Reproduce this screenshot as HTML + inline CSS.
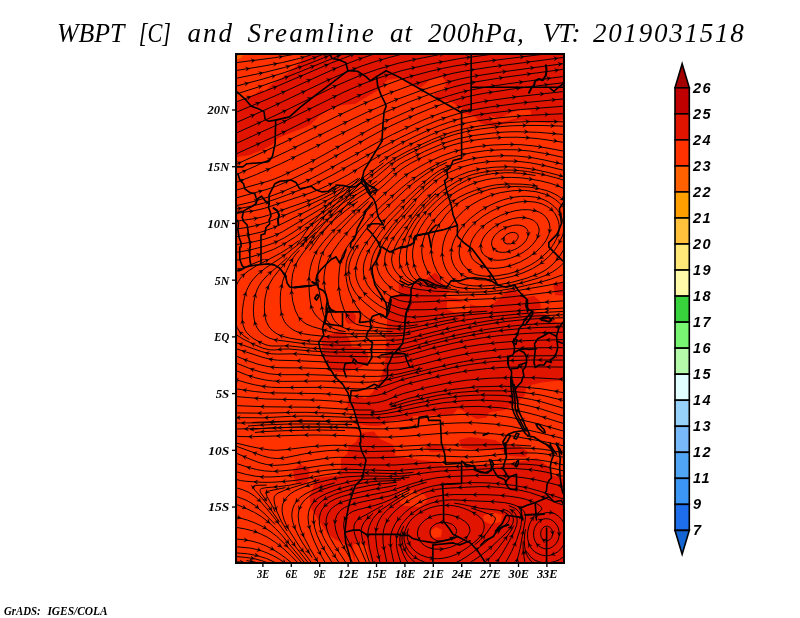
<!DOCTYPE html>
<html lang="en"><head><meta charset="utf-8"><title>WBPT [C] and Sreamline at 200hPa</title>
<style>html,body{margin:0;padding:0;background:#fff;}body{width:800px;height:618px;overflow:hidden;}svg{display:block;}.t{font-family:"Liberation Serif","DejaVu Serif",serif;font-style:italic;font-size:27px;fill:#000;}.ax{font-family:"Liberation Serif","DejaVu Serif",serif;font-style:italic;font-weight:bold;font-size:13px;fill:#000;}.cb{font-family:"Liberation Sans","DejaVu Sans",sans-serif;font-style:italic;font-weight:bold;font-size:14.5px;fill:#000;}.ft{font-family:"Liberation Serif","DejaVu Serif",serif;font-style:italic;font-weight:bold;font-size:12.5px;fill:#000;}</style></head><body>
<svg width="800" height="618" viewBox="0 0 800 618">
<rect width="800" height="618" fill="#fff"/>
<text class="t" y="42" xml:space="default"><tspan x="57" textLength="67.00" lengthAdjust="spacingAndGlyphs">WBPT</tspan> <tspan x="138.75" textLength="32.25" lengthAdjust="spacingAndGlyphs">[C]</tspan> <tspan x="187.5" textLength="44.50" lengthAdjust="spacing">and</tspan> <tspan x="247.5" textLength="126.25" lengthAdjust="spacing">Sreamline</tspan> <tspan x="390" textLength="22.00" lengthAdjust="spacing">at</tspan> <tspan x="428" textLength="95.75" lengthAdjust="spacing">200hPa,</tspan> <tspan x="542.5" textLength="38.00" lengthAdjust="spacing">VT:</tspan> <tspan x="593" textLength="150.75" lengthAdjust="spacing">2019031518</tspan></text>
<defs><clipPath id="mc"><rect x="236" y="54" width="328" height="509"/></clipPath></defs>
<g clip-path="url(#mc)">
<rect x="236" y="54" width="328" height="509" fill="#ff3200"/>
<polygon fill="#e11400" points="311.0,54.0 303.5,59.0 296.0,66.5 283.5,76.5 276.0,81.5 271.0,85.0 265.0,91.5 261.0,90.0 253.5,95.0 247.0,98.0 243.5,100.0 236.0,101.0 236.0,157.3 249.1,155.2 261.9,149.9 272.5,144.6 277.8,138.2 285.2,135.0 293.7,131.8 304.4,127.6 310.7,124.4 319.2,115.9 330.0,109.0 342.5,105.0 355.0,104.0 367.5,96.5 380.0,89.0 387.5,80.0 400.0,78.0 412.0,86.0 420.0,88.0 430.0,80.0 442.0,77.0 446.0,82.0 445.0,90.0 434.0,94.0 438.0,100.0 450.0,101.0 458.0,106.0 464.0,110.0 461.6,112.7 474.4,115.9 480.7,123.3 493.5,126.5 506.2,123.3 519.0,120.1 527.5,121.2 548.7,123.3 566.0,119.0 566.0,52.0"/>
<polygon fill="#ff3200" points="490.3,115.9 499.9,118.0 510.5,112.7 522.2,109.5 530.7,110.6 531.3,114.8 521.1,116.9 510.5,120.1 499.9,122.2 489.2,121.2"/>
<polygon fill="#ff6000" points="234.0,52.0 246.0,52.0 241.0,58.0 234.0,61.0"/>
<polygon fill="#e11400" points="387.5,315.0 388.8,297.5 398.8,295.0 398.8,283.8 407.5,287.5 412.5,286.2 417.5,280.0 423.8,281.2 430.0,276.2 435.0,272.5 438.8,276.2 442.5,283.8 450.0,291.2 440.0,298.8 447.5,297.5 457.5,298.8 464.0,302.5 476.5,306.0 489.0,307.5 499.0,299.0 508.0,290.0 514.0,289.0 519.0,294.0 527.0,297.0 534.0,296.0 540.0,301.0 541.0,308.0 534.0,311.0 545.0,314.0 550.0,318.0 556.0,322.0 566.0,324.0 566.0,380.0 541.5,382.5 526.5,386.0 525.0,395.0 519.0,401.0 505.0,410.0 489.0,412.5 486.5,417.5 476.5,419.0 469.0,415.0 462.0,410.0 457.5,409.0 452.5,415.0 435.0,415.0 412.5,416.0 410.0,421.0 397.5,420.0 390.0,421.0 385.0,424.0 380.0,426.0 370.0,426.0 357.5,424.0 355.0,412.5 353.8,410.0 347.5,406.0 347.5,400.0 360.0,396.0 365.0,398.8 372.5,392.5 380.0,380.0 385.0,365.0 386.0,340.0"/>
<polygon fill="#ff3200" points="447.0,301.0 470.0,303.0 470.0,312.0 455.0,313.0 447.0,309.0"/>
<polygon fill="#e11400" points="322.0,337.0 330.0,335.0 340.0,330.0 345.0,333.0 350.0,340.0 352.0,347.0 360.0,347.0 368.0,352.0 368.0,362.0 360.0,368.0 345.0,372.0 335.0,372.0 328.0,365.0 322.0,350.0"/>
<polygon fill="#e11400" points="345.0,313.0 352.0,311.0 356.0,316.0 355.0,323.0 348.0,324.0 345.0,319.0"/>
<polygon fill="#e11400" points="553.0,283.0 563.0,283.0 566.0,290.0 566.0,296.0 555.0,295.0"/>
<polygon fill="#e11400" points="360.5,433.0 356.0,442.0 348.5,446.5 347.0,454.0 341.0,458.5 341.0,475.0 329.0,476.5 315.5,478.0 314.0,485.5 309.5,496.0 311.0,508.0 318.5,520.0 327.5,533.5 335.0,539.5 342.5,542.5 350.0,548.5 353.0,556.0 356.0,565.0 566.0,565.0 566.0,480.0 552.0,475.0 549.0,467.0 537.0,458.0 528.0,460.0 500.0,466.0 470.0,466.0 444.0,466.0 440.0,462.0 420.0,460.0 410.0,458.5 395.0,455.5 393.5,445.0 380.0,439.0 374.0,431.5"/>
<polygon fill="#e11400" points="293.0,470.0 300.0,464.5 309.5,468.0 309.0,480.0 303.0,485.5 295.0,482.0"/>
<polygon fill="#e11400" points="459.0,440.0 470.0,437.0 495.0,440.0 504.0,445.0 520.0,446.0 528.0,452.0 526.0,457.0 510.0,456.0 500.0,450.0 480.0,450.0 462.0,448.0"/>
<polygon fill="#e11400" points="425.0,446.0 435.0,444.0 447.0,447.0 445.0,452.0 430.0,452.0"/>
<polygon fill="#ff3200" points="353.0,545.0 360.0,541.0 367.0,546.0 369.0,556.0 372.0,565.0 356.0,565.0"/>
<polygon fill="#ff3200" points="400.0,492.0 412.0,490.0 424.0,494.0 428.0,500.0 420.0,507.0 405.0,506.0 400.0,503.0"/>
<polygon fill="#ff3200" points="430.0,531.0 436.0,527.0 442.0,530.0 441.0,537.0 433.0,538.0"/>
<polygon fill="#ff3200" points="483.0,516.0 492.0,512.0 502.0,515.0 501.0,522.0 490.0,524.0 484.0,521.0"/>
<g fill="none" stroke="#000" stroke-width="0.95" stroke-linejoin="round" stroke-linecap="butt">
<path d="M234.9 561.5 L248.6 563.0"/>
<path d="M246.4 560.6 L253.2 561.7 L258.8 563.0"/>
<path d="M235.4 556.5 L245.7 557.4 L253.7 558.6 L261.5 560.6 L269.1 563.3"/>
<path d="M235.0 552.8 L247.6 553.8 L256.7 555.5 L266.5 558.5 L277.0 563.3"/>
<path d="M235.6 546.7 L250.5 548.1 L256.1 549.3 L261.7 550.9 L267.0 552.9 L273.3 555.8 L279.3 559.2 L285.0 563.0"/>
<path d="M234.9 538.9 L245.2 539.9 L252.0 541.2 L258.6 543.0 L265.1 545.5 L271.3 548.5 L278.2 552.7 L285.6 558.0 L291.8 563.2"/>
<path d="M235.2 527.2 L245.4 529.0 L253.2 531.0 L260.7 533.9 L267.9 537.5 L275.6 542.5 L282.8 548.2 L290.5 555.2 L298.5 563.4"/>
<path d="M235.6 504.1 L246.3 508.5 L254.6 512.5 L261.4 516.6 L268.7 522.2 L275.5 528.5 L281.8 535.2 L305.3 563.5"/>
<path d="M565.0 476.7 L546.0 472.1 L533.6 470.0 L514.1 468.4 L496.8 468.4 L440.5 471.1 L429.1 472.3 L407.5 475.5 L399.5 476.2 L391.4 476.4 L363.8 475.9 L348.9 476.7 L338.6 477.9 L329.6 479.7 L317.3 482.7 L306.3 486.1 L299.9 488.6 L294.7 491.1 L290.8 493.5 L287.4 496.5 L284.6 500.2 L283.1 503.3 L282.2 506.6 L282.1 511.2 L282.9 515.7 L284.2 520.1 L286.5 525.4 L289.2 530.5 L299.1 546.0 L312.1 563.5"/>
<path d="M409.5 477.2 L402.6 478.1 L395.8 478.7 L375.1 478.9 L365.9 479.3 L357.9 480.1 L349.9 481.6 L334.3 485.5 L321.3 490.0 L312.0 494.5 L308.2 497.1 L305.5 499.3 L303.2 501.8 L301.2 504.7 L299.0 509.9 L298.2 515.6 L298.8 522.5 L300.6 529.1 L304.2 537.6 L309.6 547.8 L318.8 563.7"/>
<path d="M401.1 479.8 L393.1 480.6 L378.2 481.2 L371.3 481.8 L359.9 483.5 L349.8 485.8 L336.6 489.6 L325.8 493.8 L318.8 497.6 L316.0 499.7 L313.6 502.1 L310.3 506.8 L308.5 512.3 L308.0 518.0 L308.8 524.8 L310.9 532.6 L314.2 541.2 L319.1 551.6 L325.7 563.7"/>
<path d="M396.3 482.3 L378.0 484.2 L370.0 485.4 L355.4 488.4 L343.1 491.6 L334.4 494.5 L327.1 497.8 L322.2 500.9 L318.1 504.8 L316.1 507.7 L315.1 509.7 L313.7 515.3 L313.6 521.0 L314.7 527.8 L317.2 535.5 L321.0 543.8 L326.0 552.9 L332.7 563.6"/>
<path d="M396.8 485.0 L390.1 486.5 L375.3 489.0 L361.8 491.8 L349.5 494.5 L341.7 496.6 L335.2 499.0 L330.1 501.7 L325.6 505.1 L322.6 508.6 L320.5 512.7 L319.2 518.3 L319.4 524.0 L320.9 530.7 L323.4 537.2 L326.6 543.3 L339.6 563.6"/>
<path d="M564.5 486.9 L547.8 482.5 L536.6 479.9 L524.1 477.8 L510.4 476.2 L497.8 475.5 L479.4 475.4 L447.2 476.7 L435.8 477.9 L424.5 480.2 L412.3 483.6 L389.4 491.2 L359.0 497.4 L350.1 499.5 L343.5 501.5 L339.2 503.3 L335.2 505.6 L332.5 507.7 L330.1 510.2 L328.2 513.1 L326.9 516.3 L326.2 519.6 L326.0 523.1 L326.3 526.5 L327.1 529.9 L328.5 534.2 L330.5 538.4 L334.5 545.4 L346.5 563.6"/>
<path d="M426.8 482.2 L419.0 484.4 L411.4 486.9 L393.4 494.6 L389.1 496.1 L359.9 502.4 L351.0 504.8 L344.6 507.5 L341.8 509.4 L339.3 511.7 L336.7 515.5 L335.3 519.9 L334.9 524.5 L335.8 530.1 L337.6 535.6 L340.1 540.8 L353.3 563.7"/>
<path d="M409.6 490.1 L403.3 493.0 L391.1 499.4 L383.7 502.5 L374.9 505.4 L358.2 509.6 L352.8 511.4 L348.8 513.8 L345.8 517.2 L344.4 520.3 L343.7 523.7 L343.9 528.3 L345.0 532.8 L346.5 537.1 L349.4 543.4 L360.1 563.7"/>
<path d="M383.1 505.4 L358.9 518.6 L355.6 521.8 L354.2 524.9 L353.8 529.5 L354.4 532.9 L355.3 536.2 L357.8 542.7 L366.8 563.8"/>
<path d="M409.3 492.5 L403.2 495.7 L394.3 501.1 L381.9 509.3 L375.3 515.7 L373.2 518.5 L370.9 522.5 L369.2 526.7 L368.3 530.1 L367.9 533.5 L368.0 538.1 L369.5 548.3 L373.5 563.9"/>
<path d="M564.5 499.4 L540.5 491.4 L528.3 488.0 L513.6 485.3 L495.3 483.4 L485.0 482.8 L473.5 482.6 L448.2 483.9 L441.3 484.6 L434.5 485.7 L427.8 487.3 L422.3 489.0 L415.9 491.6 L409.7 494.6 L403.8 498.1 L395.1 503.8 L389.6 508.0 L385.4 511.8 L382.3 515.3 L379.8 519.1 L377.8 523.2 L376.5 527.6 L375.8 532.2 L375.7 536.8 L376.7 547.1 L380.3 563.9"/>
<path d="M565.0 505.5 L558.4 503.5 L540.3 496.1 L529.5 492.4 L517.1 489.6 L501.2 487.5 L489.7 486.7 L479.4 486.6 L450.6 488.0 L442.6 488.6 L436.9 489.4 L431.3 490.6 L425.8 492.2 L420.4 494.3 L414.3 497.4 L407.4 501.6 L400.8 506.2 L396.3 509.8 L392.2 513.9 L389.3 517.4 L386.8 521.3 L385.3 524.4 L383.9 528.8 L383.1 533.3 L382.9 537.9 L383.1 542.5 L383.9 548.2 L387.2 563.9"/>
<path d="M564.2 543.9 L561.8 547.8 L557.7 551.8 L553.7 554.1 L550.4 555.2 L548.2 555.6 L545.9 555.7 L542.4 555.3 L538.1 553.8 L534.2 551.4 L531.1 548.0 L528.9 544.0 L527.6 538.4 L527.6 532.6 L528.7 527.0 L530.2 522.7 L532.4 518.6 L535.4 515.1 L540.7 510.7 L541.4 509.9 L541.8 508.8 L541.5 507.7 L540.8 506.7 L539.1 505.2 L536.2 503.4 L532.0 501.5 L525.5 499.2 L518.8 497.6 L509.7 496.3 L499.4 495.3 L486.7 494.7 L454.5 494.5 L443.1 495.2 L436.3 496.3 L429.6 498.1 L424.2 500.1 L418.0 503.2 L411.2 507.5 L405.8 511.7 L401.6 515.7 L397.1 520.9 L394.7 524.8 L392.3 530.0 L391.0 534.4 L390.4 539.0 L390.4 543.6 L391.0 549.3 L394.1 563.9"/>
<path d="M515.9 563.9 L518.2 556.2 L520.1 548.4 L525.2 520.1 L525.5 516.7 L525.2 514.4 L524.5 512.2 L522.3 509.5 L518.6 506.9 L514.4 505.0 L510.0 503.7 L504.3 502.6 L492.9 501.6 L473.3 500.9 L452.7 499.8 L444.7 500.3 L437.8 501.4 L431.2 503.1 L424.7 505.6 L418.6 508.8 L412.9 512.7 L407.7 517.2 L403.9 521.5 L401.2 525.2 L398.6 530.3 L397.1 534.7 L396.4 539.2 L396.4 543.8 L397.1 549.5 L398.8 556.2 L401.2 563.9"/>
<path d="M403.8 526.0 L401.8 530.2 L400.4 534.6 L399.8 539.1 L400.1 543.7 L401.4 549.3 L403.5 554.7 L406.1 559.8 L408.7 563.6"/>
<path d="M403.1 531.3 L402.1 535.7 L402.0 540.3 L402.8 544.9 L404.4 549.2 L407.2 554.2 L410.0 557.8 L413.3 561.0 L417.1 563.6"/>
<path d="M408.4 528.5 L407.5 531.8 L407.2 535.2 L407.4 537.5 L408.1 540.9 L410.6 546.1 L412.7 548.8 L415.2 551.2 L417.9 553.3 L420.9 555.0 L427.4 557.4 L434.2 558.6 L437.6 558.7 L442.2 558.4 L450.1 556.7 L454.4 555.1 L458.6 553.2 L467.3 547.7 L477.2 539.8 L481.1 535.6 L482.8 532.6 L483.6 530.5 L484.2 527.1 L484.1 524.8 L483.6 522.5 L482.6 520.4 L480.5 517.8 L477.8 515.5 L474.0 513.0 L468.9 510.4 L463.5 508.3 L459.1 506.9 L454.6 505.9 L450.1 505.4 L440.9 505.5 L436.3 506.2 L431.9 507.3 L427.5 508.8 L423.3 510.7 L419.4 513.0 L415.6 515.7 L412.2 518.7 L409.9 521.3 L408.0 524.2 L405.9 528.3 L404.5 532.6 L404.0 536.1 L404.1 539.5 L404.7 542.9 L405.9 546.1 L408.1 550.2 L410.2 552.9 L413.4 556.2 L416.2 558.2 L420.3 560.4 L424.5 562.1 L429.0 563.2"/>
<path d="M454.8 563.1 L461.0 560.1 L466.9 556.5 L473.4 551.8 L482.5 544.8 L504.4 526.1 L508.2 521.8 L509.2 519.8 L509.4 518.6 L509.1 516.4 L507.9 514.4 L505.1 512.4 L501.9 511.1 L497.4 510.1 L480.3 508.3 L462.3 504.4 L454.3 503.2"/>
<path d="M468.8 563.5 L480.3 555.9 L490.2 548.0 L505.2 533.8 L509.1 529.5 L511.1 526.7 L512.7 523.6 L513.3 521.4 L513.4 519.1 L512.6 515.8 L511.4 513.8 L508.8 511.6 L505.7 510.1 L502.4 509.1"/>
<path d="M483.8 563.2 L490.6 557.0 L498.1 548.3 L509.1 533.6 L511.6 529.7 L513.7 525.6"/>
<path d="M495.7 563.6 L500.8 555.9 L510.0 540.0 L514.6 530.7 L516.6 525.3 L517.1 521.9 L517.1 519.6 L516.8 517.3 L516.0 515.2 L514.9 513.2 L513.3 511.5 L509.5 509.0"/>
<path d="M505.1 563.7 L511.6 551.5 L516.7 539.9 L520.2 529.0 L521.2 524.5 L521.5 521.1 L521.4 517.6 L520.9 515.4 L520.0 513.3 L518.6 511.4 L516.1 509.1 L514.2 507.9 L508.8 505.7"/>
<path d="M525.1 564.0 L523.4 552.6 L523.1 546.8 L523.2 541.1"/>
<path d="M533.3 563.2 L530.7 560.9 L528.0 557.2 L526.5 554.1 L525.2 549.7 L524.5 545.1 L524.3 540.5 L524.6 534.8 L525.5 529.1"/>
<path d="M564.3 556.3 L559.6 559.6 L555.4 561.4 L549.8 562.7 L544.1 562.9 L538.5 561.7 L534.3 559.8 L530.7 556.9 L528.0 553.2"/>
<path d="M430.4 548.2 L434.9 549.1 L440.7 549.2 L445.2 548.6 L450.8 547.1 L456.1 544.9 L461.0 542.0 L465.5 538.4 L468.4 534.9 L469.8 531.7 L469.9 529.4 L469.0 526.1 L467.1 523.3 L464.4 521.1 L460.5 518.6 L455.2 516.4 L450.8 515.1 L446.3 514.4 L441.7 514.3 L437.1 514.9 L432.7 516.1 L428.5 517.9 L424.6 520.4 L421.3 523.6 L419.3 526.4 L418.0 529.6 L417.4 533.0 L417.8 536.4 L419.0 539.6 L421.0 542.4 L424.5 545.4 L427.5 547.1 L431.9 548.5"/>
<path d="M547.6 548.6 L545.3 548.7 L543.1 548.3 L541.0 547.4 L538.2 545.4 L536.6 543.7 L534.9 540.7 L533.9 537.4 L533.6 535.2 L533.7 531.7 L534.5 528.4 L535.4 526.3 L537.3 523.4 L539.7 520.9 L541.6 519.7 L543.8 518.9 L546.1 518.7 L548.4 518.9 L550.6 519.6 L552.6 520.7 L555.2 522.9 L557.2 525.7 L558.2 527.8 L559.0 531.1 L559.2 534.6 L558.9 536.9 L558.0 540.2 L556.3 543.2 L554.8 544.9 L552.1 547.1 L550.1 548.1 L547.9 548.7 L545.6 548.8"/>
<path d="M547.6 540.9 L545.3 540.9 L544.3 540.5 L542.4 539.1 L541.2 537.2 L540.6 533.8 L541.2 530.4 L542.4 528.5 L544.1 526.9 L545.1 526.4 L547.4 526.2 L549.5 527.0 L551.2 528.6 L552.2 530.6 L552.7 534.0 L551.8 537.3 L550.4 539.2 L548.5 540.4 L546.2 540.8"/>
<path d="M431.1 536.6 L432.6 538.3 L434.6 539.6 L436.7 540.5 L438.9 541.0 L443.5 541.0 L449.1 539.6 L453.0 537.3 L454.6 535.7 L455.9 533.7 L456.5 531.5 L456.5 530.4 L455.8 528.2 L454.5 526.3 L452.8 524.8 L450.8 523.7 L446.4 522.4 L440.7 522.4 L436.3 523.7 L434.3 524.8 L432.5 526.3 L431.1 528.1 L430.2 530.2 L430.0 533.7 L430.7 535.8 L432.1 537.7"/>
<path d="M373.1 513.3 L368.8 517.1 L364.2 522.2 L362.1 526.3 L361.3 529.7 L361.5 534.2 L362.8 541.0 L365.0 548.8 L370.0 564.1"/>
<path d="M474.7 544.7 L480.0 540.3 L484.9 535.4 L494.2 522.3 L495.4 519.1 L495.3 518.0 L494.7 517.0 L491.9 515.0 L471.2 508.1"/>
<path d="M235.2 516.6 L247.4 520.1 L254.9 522.9 L263.2 526.9 L270.0 531.2 L276.4 536.1 L283.1 542.3 L291.1 550.7 L302.5 563.6"/>
<path d="M534.9 518.1 L538.5 515.3 L542.7 513.5 L547.2 512.5 L551.8 512.7 L555.0 513.8 L558.8 516.4 L561.9 519.8 L564.3 523.7"/>
<path d="M335.0 482.8 L326.2 485.3 L317.5 488.3 L311.1 490.9 L305.0 494.1 L300.3 497.4 L297.0 500.7 L294.4 504.5 L292.7 508.7 L291.9 513.2 L292.0 517.8 L292.9 522.3 L294.7 527.8 L297.6 534.0 L302.1 542.1 L312.1 557.5"/>
<path d="M234.9 487.3 L243.7 490.1 L248.9 492.4 L254.7 496.3 L260.6 501.7 L266.7 508.6 L275.4 519.3 L296.5 548.0 L308.6 563.3"/>
<path d="M319.5 479.9 L303.9 484.1 L287.4 489.1 L277.9 493.2 L276.0 494.5 L274.5 496.2 L274.0 498.5 L274.1 500.8 L275.3 506.4 L277.0 511.9 L281.3 521.3 L287.2 531.1"/>
<path d="M235.5 496.0 L246.1 500.2 L250.2 502.4 L255.0 505.5 L263.8 513.0 L275.1 524.4"/>
<path d="M285.4 487.6 L269.6 490.8 L267.5 491.6 L266.6 492.3 L266.2 493.4 L267.1 496.7 L272.7 506.7 L275.2 511.9"/>
<path d="M301.1 482.9 L288.7 485.4 L278.4 486.7 L265.8 487.7 L261.3 488.6 L260.4 489.3 L260.0 490.4 L260.6 492.6 L265.9 500.0"/>
<path d="M266.8 485.1 L255.4 485.4 L253.2 486.3 L253.1 487.4 L255.0 490.3 L263.4 499.8 L268.4 506.0 L279.5 522.2"/>
<path d="M413.4 472.3 L404.2 473.3 L396.2 473.7 L358.2 472.6 L339.9 472.8 L326.2 474.6 L295.7 480.4 L285.4 481.4 L271.6 482.3 L261.3 482.3 L245.2 481.2 L240.6 480.6 L235.1 479.1"/>
<path d="M564.2 471.0 L547.5 467.0 L537.3 465.2 L525.8 464.2 L510.9 463.9 L499.4 464.2 L473.0 466.0 L437.4 467.1 L398.4 470.6 L385.8 470.5 L349.0 469.3 L336.3 469.4 L324.9 470.4 L294.2 475.1 L280.5 476.4 L270.1 477.0 L262.1 476.9 L254.1 476.0 L246.2 474.4 L235.1 471.4"/>
<path d="M564.5 465.2 L547.7 461.4 L538.6 460.0 L529.4 459.3 L515.6 459.3 L503.0 459.8 L474.3 462.2 L431.8 462.5 L395.1 465.0 L370.9 465.0 L343.3 464.3 L334.1 464.4 L323.8 465.3 L295.4 469.6 L281.7 470.9 L272.5 471.4 L264.4 470.9 L256.5 469.5 L248.7 467.5 L235.6 463.2"/>
<path d="M564.6 457.5 L552.2 455.1 L543.1 453.7 L536.2 453.1 L528.1 452.9 L508.6 453.7 L482.3 456.2 L472.0 456.8 L461.6 456.8 L424.8 455.5 L415.6 455.8 L395.0 457.2 L376.6 457.8 L366.2 457.9 L338.6 457.3 L331.8 457.7 L323.8 458.6 L285.2 464.7 L274.8 465.4 L266.8 464.6 L259.1 462.6 L249.4 458.9 L235.7 452.9"/>
<path d="M564.8 453.1 L551.2 450.5 L542.1 449.2 L532.9 448.4 L522.6 448.0 L504.2 448.3 L480.1 450.0 L470.9 450.4 L423.8 449.2 L390.5 451.0 L370.9 451.5 L361.7 451.3 L344.5 450.3 L336.5 450.2 L327.3 450.7 L314.7 452.2 L304.5 453.8 L285.4 457.7 L280.8 458.3 L276.2 458.5 L270.5 457.9 L262.7 455.9 L235.7 446.0"/>
<path d="M531.2 446.0 L515.1 445.0 L501.3 444.7 L471.4 445.0 L430.0 444.8 L400.1 446.3 L378.3 446.7 L365.6 446.5 L342.7 445.4 L332.3 445.3 L310.5 446.6 L284.3 449.8 L276.2 450.3 L269.4 449.9 L261.4 448.7 L249.0 446.2 L235.6 442.9"/>
<path d="M564.8 446.0 L543.4 441.5 L510.5 435.7 L494.5 433.9 L475.0 432.7 L461.2 432.6 L444.0 433.2 L403.9 436.4 L388.9 437.1 L375.1 437.0 L341.8 435.5 L318.8 435.0 L300.4 435.2 L252.2 436.7 L243.0 436.6 L234.9 436.2"/>
<path d="M564.6 438.9 L536.7 432.0 L510.9 426.4 L494.9 424.2 L475.5 422.8 L461.7 422.8 L444.4 423.5 L400.9 427.9 L383.7 428.9 L372.2 428.8 L335.5 427.4 L312.5 427.0 L294.1 427.2 L259.6 428.5 L235.4 429.0"/>
<path d="M564.6 431.4 L536.9 423.5 L513.4 418.0 L505.5 416.6 L497.5 415.6 L476.8 414.3 L461.9 414.4 L443.5 415.4 L429.8 417.0 L397.9 421.4 L380.7 422.7 L369.2 422.7 L330.1 421.3 L307.1 421.0 L292.2 421.3 L262.3 422.8 L235.9 423.0"/>
<path d="M564.5 423.8 L538.2 415.6 L527.0 412.7 L514.7 410.0 L506.7 408.6 L498.8 407.6 L478.1 406.4 L462.0 406.8 L442.5 408.4 L427.7 410.5 L394.9 416.2 L385.7 417.3 L377.7 417.9 L363.9 418.0 L327.1 416.5 L305.3 416.1 L291.5 416.3 L262.8 417.8 L235.2 417.6"/>
<path d="M564.8 416.5 L539.6 408.5 L529.6 406.0 L518.3 403.6 L509.3 402.0 L501.3 401.1 L480.6 400.1 L464.5 400.7 L442.8 402.8 L422.4 406.3 L388.6 413.1 L381.7 414.1 L374.9 414.7 L359.9 414.7 L325.5 412.9 L305.9 412.3 L293.3 412.4 L263.4 413.2 L235.8 412.9"/>
<path d="M564.8 408.6 L540.6 401.5 L531.6 399.5 L520.3 397.5 L510.0 396.1 L502.0 395.4 L480.2 395.0 L462.9 395.9 L441.3 398.5 L415.3 403.5 L386.2 410.5 L379.4 411.6 L371.4 412.2"/>
<path d="M372.7 410.0 L358.9 410.0 L315.3 407.3 L267.0 406.8 L234.9 405.6"/>
<path d="M565.1 379.5 L536.4 377.8 L514.6 377.5 L490.4 378.2 L466.4 380.2 L445.9 383.4 L426.8 387.4 L403.4 393.5 L396.9 395.8 L387.3 399.8 L381.9 401.5 L376.3 402.7 L369.4 403.4 L357.9 403.2 L332.7 401.0 L318.9 400.2 L266.0 399.0 L235.1 396.5"/>
<path d="M564.9 400.8 L541.4 395.1 L523.2 392.4 L503.7 390.8 L479.6 390.8 L460.1 392.3 L447.5 393.9 L437.3 395.5 L410.3 401.2 L390.4 407.0"/>
<path d="M564.5 367.1 L530.0 366.8 L504.7 367.3 L487.5 368.5 L465.8 371.1 L454.4 373.1 L438.7 376.3 L413.0 382.5 L401.9 385.7 L387.2 392.1 L381.8 394.1 L376.2 395.5 L369.4 396.4 L357.9 396.3 L333.8 394.4 L320.0 393.6 L268.3 392.8 L254.5 391.5 L235.2 388.7"/>
<path d="M564.9 392.9 L541.1 388.8 L521.6 386.9 L500.9 386.2 L475.7 386.9 L452.8 389.4 L433.5 392.6 L407.8 398.6 L390.3 404.4"/>
<path d="M565.0 360.1 L530.5 360.0 L506.3 360.7 L490.3 361.8 L470.9 364.3 L453.9 367.3 L425.8 373.6 L402.4 379.6 L381.8 386.8 L375.1 388.2 L368.2 388.9 L357.9 388.9 L323.4 387.3 L283.2 387.6 L271.7 387.3 L262.5 386.3 L254.6 384.8 L246.8 382.9 L235.8 379.6"/>
<path d="M564.5 355.7 L532.3 355.8 L511.6 356.4 L494.4 357.5 L477.3 359.5 L463.7 361.6 L449.0 364.6 L424.4 370.4 L385.3 380.2 L377.4 381.5 L369.4 382.2 L357.9 382.3 L322.3 381.0 L283.2 381.4 L272.8 381.0 L264.9 379.9 L255.9 377.9 L247.1 375.1 L235.4 370.4"/>
<path d="M422.6 368.2 L398.0 374.1 L387.7 375.6 L377.4 376.4 L360.2 376.4 L310.7 374.7 L279.7 374.7 L269.4 373.8 L260.4 371.9 L249.4 368.4 L235.6 362.8"/>
<path d="M565.0 347.6 L536.2 347.8 L521.3 348.2 L499.5 349.6 L482.3 351.5 L467.5 353.7 L454.0 356.3 L435.0 360.8 L402.6 369.0 L397.0 369.9 L390.1 370.3 L375.1 370.2 L302.7 367.9 L282.0 367.8 L275.1 367.5 L267.2 366.4 L258.2 364.3 L248.4 361.0 L235.6 355.9"/>
<path d="M564.8 339.6 L534.9 340.3 L518.9 341.0 L498.2 342.6 L479.9 344.7 L464.0 347.2 L449.4 350.3 L432.7 354.4 L404.9 361.9 L399.2 362.9 L393.5 363.3 L365.9 363.2 L339.5 362.7 L300.4 360.8 L277.4 360.2 L270.6 359.3 L262.8 357.4 L235.4 348.5"/>
<path d="M564.7 332.1 L537.1 332.9 L522.2 333.7 L500.4 335.5 L483.3 337.7 L467.4 340.3 L455.0 342.8 L433.7 347.8 L406.1 355.6 L400.4 356.7 L394.7 357.2 L332.6 356.1 L317.7 355.4 L294.7 353.8 L277.5 354.1 L271.7 353.8 L267.2 353.1 L261.6 351.6 L235.6 342.5"/>
<path d="M564.5 323.1 L538.1 323.9 L525.5 324.7 L506.0 326.6 L490.1 328.8 L469.7 332.4 L453.9 335.7 L432.7 340.8 L407.2 347.7 L399.3 349.2 L391.2 349.7 L334.9 349.3 L310.8 348.2 L289.0 345.9 L271.8 346.0 L268.4 345.5 L265.1 344.5 L259.8 342.2 L253.8 338.8 L250.1 336.1 L246.9 332.8 L245.0 329.9 L243.3 325.6 L242.4 321.1 L242.1 316.5 L242.4 310.8 L243.4 302.8 L244.5 297.2 L246.2 291.7 L248.0 287.4 L250.8 282.4 L253.6 278.8 L257.5 274.6 L265.5 268.0 L280.9 257.8 L287.3 253.1 L300.8 242.3 L322.7 223.6 L332.6 215.7 L345.6 206.3 L366.6 192.2 L374.9 186.0 L383.0 179.5 L395.6 167.8 L400.2 164.3 L405.1 161.3 L424.6 151.4 L442.5 143.7 L457.9 138.8 L473.6 135.5 L494.1 132.9 L505.6 132.0 L515.9 131.7 L537.8 132.3 L564.1 134.5"/>
<path d="M564.7 314.7 L525.7 316.5 L506.2 318.5 L488.0 320.9 L459.7 325.9 L437.3 331.1 L409.4 338.2 L402.6 339.5 L396.9 340.1 L369.3 340.5 L339.5 341.9 L329.1 341.9 L310.7 341.0 L302.7 340.3 L290.2 338.2 L282.4 336.3 L277.2 334.0 L272.5 330.7 L268.7 326.4 L266.2 321.3 L264.7 314.5 L264.4 306.5 L265.0 298.5 L266.7 290.6 L269.3 284.2 L273.4 277.3 L277.7 271.9 L285.9 262.3 L291.6 255.1 L295.6 251.0 L315.8 232.2"/>
<path d="M564.0 317.7 L538.7 318.6 L526.1 319.4 L507.8 321.3 L491.9 323.5 L478.3 325.8 L459.1 329.6 L434.4 335.4 L406.6 342.7 L401.0 343.8 L395.3 344.5 L341.2 345.2 L328.6 345.0 L305.6 343.8 L274.9 339.8 L269.4 338.1 L264.3 335.4 L259.9 331.7 L256.6 327.0 L254.6 321.6 L253.7 316.0 L253.4 309.1 L254.0 301.1 L255.2 295.4 L257.0 290.0 L259.0 285.8 L262.2 281.1 L267.6 275.1 L284.0 260.7 L287.3 257.5"/>
<path d="M564.6 326.7 L538.2 327.5 L524.4 328.3 L505.0 330.1 L489.0 332.2 L467.5 335.9 L450.6 339.4 L431.6 344.0 L405.0 351.4 L399.3 352.4 L393.6 352.7 L330.3 352.1 L312.0 351.1 L289.1 349.0 L283.3 349.1 L274.2 350.0 L269.6 349.8 L262.9 348.2 L254.4 344.7 L243.1 339.0 L235.3 334.2"/>
<path d="M564.2 311.4 L535.4 312.8 L521.7 313.7 L495.4 316.3 L469.1 319.5 L458.9 321.0 L447.6 323.3 L410.6 332.0 L403.8 333.1 L398.1 333.5 L352.1 333.9 L339.5 333.3 L333.8 332.5 L328.2 331.2 L312.7 326.7 L306.4 324.1 L301.7 320.7 L298.1 316.2 L295.2 310.0 L292.7 301.2 L291.6 292.0 L291.7 281.7 L292.7 273.7 L295.1 266.0 L298.2 259.9 L302.7 253.2 L310.0 244.3 L318.5 235.0 L326.7 226.9 L334.3 219.9 L344.1 211.9 L357.8 201.4"/>
<path d="M249.3 339.6 L243.6 335.7 L239.6 331.6 L237.2 327.7 L235.7 323.3"/>
<path d="M410.2 334.2 L402.2 335.4 L395.3 335.9 L372.3 336.0 L341.3 337.2 L332.1 337.1 L310.4 334.9 L303.6 333.8 L295.9 331.3 L292.9 329.7 L290.1 327.7 L286.7 324.6 L284.6 321.8 L283.1 318.7 L281.6 314.4 L280.7 308.7 L280.3 303.0 L280.3 297.2 L280.7 291.5 L282.7 281.3 L284.5 275.9 L286.7 270.6 L289.6 264.3 L293.5 257.3 L296.3 253.6 L299.4 250.2"/>
<path d="M457.9 318.6 L442.0 321.4 L413.9 327.5 L407.1 328.5 L401.4 329.0 L388.7 328.7 L368.1 326.6 L359.1 325.1 L355.8 324.0 L353.8 322.9 L351.1 320.7 L348.9 318.1 L345.8 313.2 L343.8 309.1 L340.6 299.3 L338.9 289.1 L338.6 283.3 L338.8 276.4 L339.5 268.4 L340.5 261.6 L342.5 255.0 L347.0 247.0 L359.3 230.3 L371.1 216.2 L382.5 204.9 L401.4 188.0 L410.3 180.8 L426.6 169.9 L435.6 164.8 L445.0 160.5 L458.0 155.9 L471.4 152.7 L486.2 150.6 L502.3 149.7 L516.1 149.8 L529.8 151.0 L544.6 153.4 L564.8 157.7"/>
<path d="M392.6 331.5 L361.6 330.5 L353.6 330.0 L346.8 328.9 L341.4 326.7 L336.8 323.3 L334.6 320.7 L332.8 317.8 L329.9 310.3 L326.6 298.1 L324.3 286.8 L323.9 277.6 L324.9 269.6 L326.1 265.2 L327.7 260.9 L332.6 251.8 L339.2 242.4 L351.6 227.3 L363.2 214.5 L372.0 205.5 L382.1 196.0 L400.1 179.9 L407.3 174.2 L418.1 167.6 L430.2 161.1 L441.8 155.9 L452.6 152.0 L464.8 148.8 L477.3 146.6 L492.1 145.0 L508.2 144.4 L520.9 144.7 L533.5 145.9 L546.0 147.8 L564.0 151.2"/>
<path d="M417.8 324.7 L409.9 325.9 L403.0 326.3 L394.9 326.0 L387.0 325.0 L380.2 323.5 L373.7 321.3 L368.5 318.8 L363.8 315.5 L359.9 311.3 L356.0 305.6 L352.2 298.5 L348.7 290.0 L347.0 283.3 L346.0 276.5 L345.7 269.6 L346.3 262.8 L347.4 258.3 L349.2 254.0 L352.0 249.0 L356.3 242.3 L362.4 233.9 L368.9 225.8 L374.2 219.7 L380.5 213.1 L405.7 189.5 L413.7 182.9 L424.8 174.8 L432.5 169.7 L439.5 165.8 L446.8 162.4"/>
<path d="M345.7 331.7 L340.1 330.7 L335.7 329.4 L331.5 327.5 L326.5 324.6 L321.9 321.2 L317.6 317.3 L314.7 313.8 L312.4 309.8 L311.2 306.6 L310.1 300.9 L309.3 292.9 L308.9 283.7 L309.0 278.0 L309.5 272.3 L310.4 267.7 L311.8 262.2 L314.8 254.7 L318.2 248.7 L323.8 241.4 L332.2 232.0 L351.3 213.6 L385.1 184.2 L397.6 172.3 L404.0 167.5 L410.9 163.2 L422.1 157.4 L433.6 152.1 L443.2 148.2 L451.9 145.2 L460.8 142.8 L469.8 140.9 L481.1 139.2 L492.6 138.1 L505.2 137.3 L516.7 137.2 L527.0 137.7 L538.5 138.7 L564.7 142.5"/>
<path d="M564.4 308.0 L525.4 310.2 L461.2 315.4 L448.6 316.9 L420.2 321.6 L412.2 322.5 L406.5 322.7 L401.9 322.4 L397.4 321.7 L391.8 320.4 L386.4 318.3 L380.4 315.0 L373.9 310.2 L365.0 302.9 L360.0 298.2 L356.9 294.7 L354.3 291.0 L351.6 285.9 L350.1 281.6 L349.0 275.9 L348.7 270.2 L349.0 265.6 L350.0 261.1 L351.6 256.8 L354.1 251.6 L357.7 245.7"/>
<path d="M487.3 311.2 L457.5 313.1 L423.2 316.6 L414.0 317.1 L407.1 316.7 L401.5 315.7 L396.0 313.9 L389.6 311.3 L379.6 305.7 L373.9 301.7 L369.4 298.1 L366.1 295.0 L363.0 291.6 L360.4 287.8 L358.7 284.8 L357.4 281.6 L356.1 277.2 L355.6 272.6 L355.6 269.2 L356.1 265.7 L357.2 261.3 L358.7 256.9 L361.1 251.7 L364.0 246.7 L367.7 241.0 L378.2 227.3 L388.3 216.2 L406.1 198.3 L417.9 187.3 L433.0 174.9 L439.7 170.4 L447.9 166.3 L459.8 161.9 L473.1 158.5 L487.9 156.5 L502.9 155.7 L516.7 156.0 L530.4 157.4 L544.0 159.9 L564.1 164.5"/>
<path d="M564.6 300.7 L495.8 306.0 L461.3 307.6 L426.9 309.7 L411.9 309.9 L406.2 309.3 L401.7 308.5 L397.3 307.2 L392.0 305.0 L385.9 301.8 L380.1 298.1 L375.5 294.5 L371.5 290.5 L367.4 284.9 L365.0 279.7 L363.6 274.1 L363.3 268.4 L364.1 262.7 L365.8 257.2 L368.6 250.9 L372.8 244.0 L380.4 232.5 L386.8 224.4 L393.0 217.6 L414.5 195.2 L424.7 185.9 L437.0 175.5 L442.8 171.7 L451.0 167.7"/>
<path d="M564.3 290.4 L516.4 296.3 L494.6 298.5 L422.3 301.9 L411.9 302.1 L406.2 301.8 L399.4 300.5 L393.1 297.9 L386.3 293.6 L380.1 288.4 L375.7 283.1 L372.9 278.1 L371.2 272.6 L370.7 266.9 L371.0 263.4 L371.9 258.9 L373.3 254.6 L375.2 250.4 L382.5 238.6 L392.1 225.7 L411.1 204.2 L422.4 192.7 L431.0 185.1 L438.1 179.2 L443.8 175.4 L449.9 172.1 L461.5 167.2 L473.7 163.8 L487.4 161.7 L502.3 160.9 L516.1 161.2 L529.8 162.7 L544.5 165.6 L564.6 170.5"/>
<path d="M564.8 281.9 L547.9 285.3 L512.8 291.4 L500.3 293.2 L487.7 294.3 L437.1 295.9 L419.9 295.8 L411.8 295.4 L406.1 294.7 L401.7 293.6 L396.4 291.3 L391.5 288.2 L387.1 284.5 L383.3 280.2 L380.1 275.5 L378.2 271.3 L377.0 266.8 L376.7 262.3 L377.4 256.6 L378.8 252.2 L381.2 247.0 L389.9 233.4 L396.3 225.2 L415.1 203.6"/>
<path d="M564.7 274.1 L550.7 279.2 L539.6 282.4 L516.1 287.8 L499.1 290.7 L487.7 291.8 L473.9 292.2 L458.9 292.2 L434.8 291.2 L419.9 289.6 L410.9 288.0 L404.3 286.0 L399.2 283.4 L396.3 281.4 L392.9 278.4 L388.5 273.1 L386.9 270.0 L385.7 266.8 L385.0 263.4 L384.7 260.0 L385.1 255.4 L386.5 251.0 L389.3 244.7 L392.2 239.7 L396.2 234.1 L417.2 208.2 L427.6 197.5 L438.8 187.7 L448.3 181.2 L459.5 175.3 L469.2 171.6 L480.3 168.9 L494.0 167.2 L507.8 166.7 L520.4 167.4 L533.0 169.2 L548.7 172.6 L564.2 176.8"/>
<path d="M235.7 286.6 L238.3 281.5 L240.9 277.7 L244.1 274.4 L248.5 270.8 L256.3 265.9 L280.8 253.0 L288.5 248.1 L298.7 240.7"/>
<path d="M457.0 290.1 L442.2 288.0 L436.6 286.8 L430.1 284.5 L425.1 281.8 L420.5 278.3 L417.7 274.6 L415.8 270.5 L413.8 263.9 L412.6 257.1 L412.7 250.2 L414.3 242.3 L417.0 234.7 L420.5 227.5 L424.8 220.7 L430.6 213.5 L437.7 206.1 L444.6 200.0 L451.0 195.1 L457.8 190.7 L463.8 187.5 L471.2 184.2 L477.7 181.9 L486.6 179.6 L494.5 178.3 L502.6 177.5 L511.8 177.4 L520.9 177.8 L530.1 179.0 L540.3 180.8 L550.3 183.3 L557.9 185.8 L564.1 188.8"/>
<path d="M564.5 248.3 L559.7 256.1 L553.8 263.2 L550.4 266.3 L545.9 269.9 L539.9 273.2 L527.0 278.1 L511.5 282.4 L497.9 284.9 L484.1 286.0 L473.8 285.9 L465.8 284.9 L460.2 283.5 L458.2 282.6 L455.3 280.6 L452.7 278.4 L449.7 274.9 L447.1 271.1 L445.5 268.0 L444.2 264.9 L442.9 260.4 L442.4 257.0 L442.2 252.4 L442.5 247.9 L443.3 243.3 L444.5 238.9 L446.1 234.6 L450.4 226.4 L456.5 218.1 L463.7 210.7 L471.0 205.1 L480.0 199.9 L490.5 195.4 L500.5 192.6 L513.0 190.7 L524.5 190.4 L535.9 191.7 L544.8 194.1 L549.0 195.8 L553.0 198.0 L555.9 200.0 L559.4 202.9 L562.5 206.3 L564.5 209.1"/>
<path d="M429.3 287.0 L420.4 284.5 L415.0 282.4 L410.0 279.7 L406.5 276.7 L404.4 274.0 L402.5 271.1 L400.2 265.8 L399.3 261.3 L399.5 255.6 L401.3 247.7 L404.4 239.1 L408.9 229.8 L413.7 221.9 L419.1 214.5 L425.8 206.6 L434.8 197.7 L442.6 190.9 L448.2 186.8 L455.9 182.0 L462.0 178.7 L467.3 176.3 L472.7 174.5 L479.4 172.9 L487.3 171.5 L495.3 170.5 L503.4 170.1 L511.4 170.1 L519.5 170.6 L527.4 171.5 L536.5 173.1 L546.6 175.4 L556.6 178.0 L564.3 180.3"/>
<path d="M564.0 262.4 L560.9 265.7 L557.3 268.7 L552.5 271.9 L547.5 274.6 L538.9 277.9 L520.1 283.3 L505.5 286.5 L491.8 288.4 L478.0 288.9 L463.1 288.2 L456.3 287.2 L450.9 285.2 L445.9 282.3 L441.7 278.5 L437.2 271.8 L433.9 264.5 L431.8 256.7 L431.3 249.8 L432.0 241.8 L433.2 237.4 L434.7 233.1 L436.7 228.9 L439.5 223.9 L446.3 214.6 L453.4 207.1 L460.6 201.3 L468.6 196.9 L479.2 192.6 L490.2 189.1 L500.4 187.3 L515.3 186.5 L529.1 187.1 L540.4 189.0 L546.0 190.4 L550.3 192.0 L554.5 193.9 L558.5 196.2 L562.2 198.9 L564.7 201.2"/>
<path d="M471.7 278.9 L467.3 277.5 L463.2 275.5 L460.4 273.5 L457.1 270.2 L454.5 266.5 L453.0 263.4 L451.9 260.1 L451.2 255.5 L451.2 252.1 L451.7 247.5 L452.9 243.1 L454.6 238.8 L456.7 234.7 L459.8 229.9 L462.6 226.3 L466.5 222.0 L470.7 218.1 L475.2 214.5 L479.9 211.1 L485.7 207.5 L491.9 204.4 L497.1 202.1 L503.6 199.7 L509.2 198.2 L514.8 197.1 L520.5 196.4 L526.3 196.3 L530.9 196.6 L535.4 197.2 L539.9 198.3 L544.2 199.9 L548.3 202.0 L551.1 203.9 L554.6 206.9 L557.7 210.4 L559.6 213.2 L561.1 216.3 L562.7 220.7 L563.6 225.2 L563.8 228.6 L563.5 232.0 L562.6 235.4 L558.8 243.7 L554.4 250.5 L548.2 257.3 L540.2 263.9 L532.4 268.7 L523.0 272.9 L512.0 276.5 L500.8 278.9 L489.4 280.0 L479.0 279.8 L474.5 279.1 L470.0 278.0"/>
<path d="M450.8 287.5 L443.0 285.2 L439.9 283.8 L436.0 281.4 L432.6 278.3 L429.7 274.8 L426.7 269.8 L424.0 263.5 L422.5 258.0 L421.8 252.3 L421.9 247.7 L422.8 242.0 L424.4 236.5 L426.7 231.2 L429.6 226.2 L432.9 221.5 L437.2 216.2 L441.9 211.1 L446.9 206.3 L452.2 201.9 L457.8 197.9 L466.0 193.8 L474.6 190.5 L482.3 188.0 L488.9 186.2 L494.5 185.0 L507.1 183.9 L522.1 184.2 L530.1 184.9 L538.0 186.2"/>
<path d="M235.1 271.5 L241.3 268.6 L263.7 259.4"/>
<path d="M472.5 272.1 L469.4 270.5 L466.7 268.5 L462.8 264.2 L460.2 259.1 L459.1 253.5 L459.4 247.7 L461.2 241.1 L464.4 235.0 L469.1 228.5 L475.6 222.0 L482.9 216.3 L490.7 211.5 L500.1 207.1 L508.8 204.1 L517.8 202.1 L525.8 201.4 L533.8 201.9 L538.3 202.8 L542.7 204.2 L546.8 206.3 L549.7 208.2 L553.1 211.2 L555.2 214.0 L557.3 218.1 L558.4 221.3 L559.1 224.7 L559.2 229.3 L558.7 232.7 L557.7 236.0 L555.8 240.2 L553.5 244.2 L550.9 248.0 L547.9 251.4 L540.3 258.4 L535.6 261.8 L530.7 264.9 L520.4 269.9 L515.0 271.9 L508.4 273.8 L497.1 275.8 L491.3 276.3 L485.6 276.2 L481.0 275.7 L476.5 274.8 L472.2 273.3 L469.1 271.7"/>
<path d="M413.5 284.1 L407.1 281.5 L403.2 279.1 L399.7 276.2 L395.9 271.9 L393.5 267.9 L392.1 263.6 L391.6 259.0 L392.3 254.5 L395.0 246.9 L398.1 240.7 L411.9 219.5 L416.8 213.1 L422.8 206.1 L429.2 199.5 L435.9 193.3"/>
<path d="M420.9 282.6 L416.8 280.5 L413.3 277.6 L411.2 274.9 L408.7 269.7 L407.4 265.3 L406.5 259.6 L406.4 253.9 L407.1 248.2 L408.8 241.5 L410.6 236.0 L412.9 230.8 L416.3 224.7 L420.1 219.0 L425.2 212.7 L430.6 206.8 L436.4 201.2 L446.0 193.0 L457.4 185.2 L467.5 179.8 L471.8 178.2 L477.4 176.6 L484.1 175.0 L492.0 173.7 L505.8 172.7 L512.7 172.8 L520.7 173.3 L535.5 175.5"/>
<path d="M485.3 266.7 L479.9 264.8 L475.1 261.7 L472.1 258.3 L470.2 254.1 L469.6 249.5 L470.5 243.9 L472.7 238.6 L475.9 233.8 L480.5 228.6 L486.7 223.4 L493.4 219.1 L500.6 215.4 L508.1 212.6 L515.9 210.6 L522.7 209.7 L529.6 209.8 L536.4 211.1 L539.6 212.3 L542.6 214.1 L545.2 216.3 L546.6 218.1 L548.4 221.1 L549.2 223.2 L549.9 226.6 L549.9 228.9 L548.8 234.5 L545.9 240.7 L541.7 246.3 L536.0 251.9 L528.6 257.3 L520.5 261.8 L512.0 265.2 L503.1 267.5 L495.1 268.4 L487.1 268.0 L480.4 266.3"/>
<path d="M234.9 260.6 L250.6 257.0 L262.7 253.5 L273.5 249.4 L283.7 244.2 L295.4 236.8 L319.5 219.2 L343.2 202.8 L366.6 188.2 L376.9 180.9"/>
<path d="M330.1 323.9 L326.2 319.7 L324.4 316.7 L323.5 314.6 L322.2 309.0 L318.5 287.5 L317.8 279.5 L317.9 272.6 L318.9 264.6 L320.6 257.9 L322.3 253.6 L325.1 248.6 L329.1 243.0 L334.9 235.8 L350.5 218.9 L368.6 201.3"/>
<path d="M492.2 258.9 L487.9 257.5 L484.9 255.7 L482.5 253.2 L481.1 250.1 L480.6 246.7 L481.1 243.3 L482.7 239.0 L485.2 235.1 L488.2 231.7 L492.6 227.9 L497.4 224.8 L502.5 222.1 L507.8 220.0 L513.4 218.5 L519.1 217.6 L523.7 217.6 L529.3 218.6 L533.5 220.4 L535.3 221.8 L536.9 223.5 L538.5 226.6 L539.0 228.8 L539.1 231.1 L538.2 235.6 L536.3 239.8 L532.8 244.3 L528.7 248.3 L523.1 252.4 L517.0 255.6 L510.6 258.1 L503.9 259.8 L498.2 260.3 L492.4 259.9 L488.0 258.6"/>
<path d="M234.9 252.7 L250.7 249.8 L264.1 246.4 L274.9 242.5 L284.2 237.9 L293.0 232.5 L314.9 217.6 L368.8 182.5 L377.1 176.3 L391.2 164.4 L396.8 160.5 L405.8 155.4 L419.2 148.7 L431.7 142.9 L441.3 139.0 L453.3 134.9 L465.5 131.7 L480.2 129.0 L495.0 127.1 L509.9 125.9 L524.9 125.4 L542.1 125.5 L565.1 126.2"/>
<path d="M497.8 251.2 L495.7 250.3 L493.9 249.0 L492.5 247.1 L491.7 245.0 L491.6 242.7 L492.1 240.4 L493.0 238.3 L494.9 235.4 L497.3 232.9 L500.0 230.8 L506.0 227.5 L512.6 225.5 L516.0 225.1 L519.5 225.2 L522.8 226.0 L524.9 227.1 L527.2 229.6 L528.1 231.7 L528.3 234.0 L527.6 237.4 L526.1 240.4 L523.9 243.1 L521.3 245.4 L517.6 248.0 L514.5 249.6 L510.2 251.2 L505.7 252.2 L502.3 252.4 L498.8 252.0 L495.6 250.9"/>
<path d="M234.9 244.8 L253.0 241.9 L264.2 239.3 L272.9 236.3 L282.3 231.9 L332.6 201.8 L347.2 192.6 L365.3 180.3 L386.2 164.2 L394.8 158.3 L404.8 152.7 L418.2 146.0 L431.7 139.7 L442.4 135.4 L453.3 131.7 L465.5 128.5 L479.1 126.0 L495.0 123.8 L509.9 122.5 L524.8 121.7 L542.1 121.5 L565.1 121.8"/>
<path d="M505.7 243.4 L503.9 241.9 L503.3 239.7 L503.9 237.5 L505.3 235.7 L507.1 234.2 L510.2 232.8 L513.6 232.4 L515.9 232.9 L517.7 234.3 L518.3 236.5 L517.6 238.7 L515.5 241.4 L513.6 242.6 L510.4 243.9 L506.9 243.9 L504.8 243.0"/>
<path d="M234.9 237.0 L250.8 234.5 L262.0 231.8 L272.8 228.0 L284.3 222.7 L315.0 207.0 L343.1 191.3 L357.5 181.8 L383.5 162.8"/>
<path d="M234.9 229.2 L247.4 227.4 L256.4 225.5 L265.2 223.0 L273.9 219.8 L309.9 204.5 L322.4 198.7 L341.7 188.6 L349.7 183.9 L358.3 178.3"/>
<path d="M234.9 221.4 L255.4 218.5 L262.1 217.0 L268.7 215.1 L290.3 207.1 L315.3 198.4 L327.9 192.8 L340.1 186.5"/>
<path d="M234.9 213.7 L254.2 210.7 L264.3 208.4 L309.0 193.4 L318.6 189.7 L332.2 183.3 L347.4 175.2 L381.7 154.2 L400.7 143.5 L416.2 135.8 L428.7 130.0 L439.3 125.6 L449.1 122.1 L459.0 119.1 L467.9 116.9 L478.1 114.9 L490.6 113.0 L520.3 109.6 L565.0 106.1"/>
<path d="M234.9 206.0 L252.8 201.7 L269.3 196.7 L282.2 191.9 L301.2 183.5 L318.7 174.8 L376.1 143.1 L392.3 134.6 L421.5 120.8 L434.2 115.6 L445.0 111.6 L455.9 108.0 L465.9 105.2 L474.8 103.1 L486.2 101.1 L518.0 96.6 L564.9 91.4"/>
<path d="M234.9 198.3 L267.1 189.3 L275.8 186.4 L283.2 183.3 L303.9 173.3 L316.2 167.0 L375.4 133.8 L386.5 127.9 L398.0 122.5 L418.0 113.7 L430.7 108.5 L441.5 104.4 L452.4 100.8 L462.4 97.9 L472.4 95.6 L483.7 93.4 L513.3 88.9 L564.7 82.5"/>
<path d="M234.9 190.5 L268.1 181.2 L274.7 178.9 L281.0 176.3 L299.7 167.4 L313.1 160.7 L372.5 127.9 L383.7 122.0 L415.2 108.0 L437.7 99.3 L448.7 95.8 L459.7 92.6 L469.8 90.2 L481.1 88.0 L506.1 84.0 L564.2 76.4"/>
<path d="M235.0 182.9 L256.4 174.5 L280.6 163.8 L308.5 150.3 L362.9 122.8 L381.6 113.8 L409.1 102.0 L429.5 94.3 L441.5 90.4 L453.7 86.9 L464.9 84.1 L476.1 81.8 L502.2 77.6 L564.9 69.1"/>
<path d="M235.0 175.2 L255.0 166.3 L287.3 151.2 L348.1 121.2 L367.9 111.8 L396.4 99.6 L422.3 90.0 L435.4 85.7 L448.7 81.9 L460.9 78.8 L472.2 76.5 L499.5 72.3 L564.4 63.5"/>
<path d="M235.1 164.9 L284.2 142.3 L337.8 115.8 L360.7 105.0 L374.4 99.1 L391.5 92.3 L413.1 84.5 L441.8 76.0 L453.0 73.3 L464.2 71.1 L491.5 66.9 L564.5 57.3"/>
<path d="M235.1 154.4 L279.0 134.4 L334.7 106.9 L355.5 97.1 L375.6 88.6 L401.5 79.2 L412.6 75.9 L428.1 71.8 L442.7 68.4 L455.1 65.9 L482.4 61.8 L546.3 53.9"/>
<path d="M235.0 144.0 L278.0 124.5 L344.0 92.1 L361.9 84.3 L378.1 78.2 L392.3 73.5 L402.2 70.5 L429.1 64.3 L459.6 58.6 L494.9 53.9"/>
<path d="M235.0 133.6 L275.9 115.2 L336.9 85.4 L361.2 75.0 L377.5 69.3 L398.5 63.2 L416.4 59.1 L442.3 54.0"/>
<path d="M235.0 123.2 L269.7 107.8 L327.9 80.2 L349.0 71.0 L361.8 66.0 L373.8 62.0 L389.3 57.4 L403.8 53.7"/>
<path d="M379.1 162.8 L388.7 156.4 L397.6 151.2 L406.7 146.3 L420.1 139.7 L431.6 134.4 L441.2 130.5 L449.9 127.4 L458.7 124.8 L467.7 122.7 L477.8 120.8 L500.6 117.7 L524.7 115.6 L564.9 113.6"/>
<path d="M235.0 112.8 L274.2 96.3 L336.0 68.2 L357.4 59.7 L374.8 53.8"/>
<path d="M235.0 102.3 L255.5 94.8 L276.9 86.4 L330.8 63.2 L354.3 54.0"/>
<path d="M234.9 209.4 L252.9 205.9 L265.2 202.7 L278.2 198.2 L310.5 186.0 L318.8 182.1 L333.1 174.6 L381.2 147.6 L399.5 138.0 L425.5 125.5 L437.2 120.7 L448.0 116.8 L459.0 113.4 L467.9 111.1 L476.9 109.2 L489.3 107.1 L520.1 103.1 L564.8 98.8"/>
<path d="M235.0 94.4 L261.3 86.1 L281.9 78.9 L301.2 71.3 L343.7 53.8"/>
<path d="M234.9 86.5 L263.8 78.8 L284.7 72.5 L307.5 64.3 L333.1 54.0"/>
<path d="M234.9 78.6 L264.2 72.5 L284.3 67.5 L305.2 61.2 L324.5 53.8"/>
<path d="M234.9 70.7 L261.0 66.5 L282.5 62.5 L301.5 57.9 L313.5 54.0"/>
<path d="M234.9 62.8 L274.8 57.7 L297.5 53.8"/>
<path d="M234.9 55.0 L244.0 53.9"/>
<path d="M357.0 421.0 L330.0 421.5 L300.0 421.0 L275.0 421.5 L252.0 422.5"/>
<path d="M352.0 424.5 L320.0 424.0 L290.0 424.0 L262.0 425.0 L248.0 426.0"/>
<path d="M357.0 427.5 L330.0 427.0 L300.0 427.0 L270.0 428.0 L250.0 429.5"/>
<path d="M345.0 430.5 L320.0 430.0 L290.0 430.5 L265.0 431.5 L255.0 432.5"/>
<path d="M301.0 247.0 L311.0 232.5 L323.5 217.5 L336.0 203.8 L348.0 190.0 L360.0 178.0"/>
<path d="M305.0 249.0 L315.0 234.5 L327.5 219.5 L340.0 205.8 L352.0 192.0 L364.0 180.0"/>
<path d="M309.5 250.5 L319.5 236.0 L356.0 194.0"/>
<path d="M297.0 245.0 L307.0 230.0 L319.5 215.0 L344.0 188.0"/>
</g>
<g fill="#000" stroke="#000" stroke-width="0.3" stroke-linejoin="miter">
<path d="M243.7 562.3 L239.6 564.0 L241.4 562.1 L240.1 559.9ZM253.3 561.7 L249.0 563.0 L251.0 561.3 L249.8 558.9ZM254.5 558.8 L250.3 560.1 L252.2 558.4 L251.1 556.0ZM258.6 555.9 L254.3 557.0 L256.4 555.4 L255.3 553.0ZM261.0 550.6 L256.7 551.6 L258.8 550.0 L257.9 547.5ZM285.8 563.6 L281.4 563.0 L283.9 562.2 L283.8 559.6ZM248.0 540.3 L243.9 541.9 L245.7 540.0 L244.4 537.7ZM274.1 550.1 L269.7 550.0 L272.1 549.0 L271.7 546.4ZM257.6 532.6 L253.2 533.2 L255.4 531.8 L254.7 529.3ZM281.5 547.0 L277.1 546.3 L279.6 545.6 L279.7 543.0ZM246.2 508.4 L241.8 508.8 L244.1 507.5 L243.4 505.0ZM269.8 523.2 L265.5 522.3 L268.1 521.7 L268.2 519.1ZM288.9 543.6 L284.8 541.9 L287.5 541.8 L288.1 539.3ZM555.7 474.4 L560.0 473.3 L557.9 475.0 L559.0 477.4ZM528.2 469.4 L532.3 467.7 L530.5 469.6 L531.8 471.9ZM500.2 468.3 L504.1 466.1 L502.5 468.2 L504.2 470.3ZM472.3 469.6 L476.1 467.3 L474.6 469.5 L476.3 471.5ZM444.3 470.8 L448.1 468.5 L446.6 470.7 L448.3 472.7ZM416.5 474.1 L420.0 471.4 L418.8 473.7 L420.7 475.6ZM388.6 476.4 L392.6 474.3 L390.9 476.4 L392.5 478.5ZM360.6 476.0 L364.5 473.8 L362.9 475.9 L364.6 478.0ZM332.8 479.0 L336.3 476.2 L335.1 478.6 L337.1 480.3ZM305.8 486.3 L308.8 483.1 L308.0 485.6 L310.2 487.0ZM283.5 502.0 L283.6 497.6 L284.7 500.0 L287.3 499.6ZM288.2 528.7 L284.5 526.1 L287.1 526.6 L288.3 524.2ZM303.5 552.1 L299.5 550.2 L302.1 550.2 L302.9 547.7ZM400.8 478.3 L404.5 475.8 L403.1 478.1 L405.0 480.0ZM372.9 478.9 L376.7 476.7 L375.2 478.8 L376.8 480.9ZM345.2 482.6 L348.5 479.7 L347.4 482.1 L349.4 483.8ZM318.5 491.2 L321.3 487.7 L320.7 490.3 L322.9 491.6ZM298.9 509.9 L298.3 505.5 L299.7 507.7 L302.2 506.9ZM303.9 536.9 L300.4 534.2 L302.9 534.8 L304.2 532.5ZM317.4 561.4 L313.7 559.0 L316.3 559.4 L317.3 556.9ZM392.5 480.7 L396.2 478.2 L394.7 480.5 L396.5 482.4ZM364.6 482.7 L368.1 480.1 L366.8 482.4 L368.7 484.2ZM337.4 489.4 L340.5 486.2 L339.6 488.7 L341.7 490.2ZM313.0 502.5 L314.4 498.3 L314.7 500.9 L317.3 501.3ZM309.8 529.3 L306.9 526.0 L309.3 527.0 L310.9 525.0ZM320.9 554.9 L317.2 552.4 L319.8 552.9 L320.9 550.5ZM376.9 484.4 L380.5 481.8 L379.2 484.1 L381.0 486.0ZM349.5 489.8 L352.8 486.9 L351.7 489.3 L353.7 491.0ZM323.5 499.9 L325.7 496.1 L325.4 498.7 L327.9 499.7ZM314.0 524.4 L311.4 520.8 L313.7 522.2 L315.6 520.3ZM324.5 550.3 L320.7 547.9 L323.3 548.3 L324.4 545.8ZM375.9 488.9 L379.4 486.2 L378.2 488.5 L380.1 490.3ZM348.5 494.7 L351.8 491.8 L350.7 494.2 L352.8 495.8ZM323.8 506.9 L325.1 502.7 L325.4 505.3 L328.0 505.7ZM321.8 533.5 L318.6 530.5 L321.1 531.4 L322.6 529.2ZM335.7 557.8 L331.8 555.7 L334.5 555.9 L335.3 553.4ZM557.8 485.1 L562.1 484.1 L560.1 485.7 L561.1 488.1ZM530.5 478.8 L534.8 477.4 L532.8 479.2 L534.0 481.6ZM502.7 475.7 L506.8 473.8 L505.0 475.8 L506.5 478.0ZM474.7 475.5 L478.6 473.3 L477.0 475.4 L478.7 477.5ZM446.8 476.7 L450.5 474.4 L449.1 476.6 L450.8 478.6ZM419.2 481.5 L422.5 478.5 L421.5 480.9 L423.5 482.6ZM392.7 490.3 L395.7 487.1 L394.8 489.6 L397.0 491.0ZM365.3 496.0 L368.6 493.2 L367.5 495.6 L369.5 497.3ZM338.4 503.7 L341.0 500.1 L340.5 502.7 L342.8 503.9ZM326.3 526.7 L323.8 523.0 L326.1 524.4 L328.0 522.6ZM338.6 551.6 L334.7 549.5 L337.3 549.7 L338.2 547.2ZM405.7 489.1 L408.6 485.8 L407.9 488.3 L410.1 489.7ZM379.4 498.3 L382.8 495.5 L381.7 497.9 L383.6 499.6ZM352.1 504.4 L355.3 501.3 L354.3 503.8 L356.4 505.4ZM334.8 523.7 L333.1 519.6 L335.0 521.4 L337.3 520.0ZM345.0 549.5 L341.2 547.2 L343.8 547.5 L344.8 545.1ZM393.8 498.1 L396.2 494.4 L395.8 497.0 L398.2 498.1ZM367.4 507.4 L370.7 504.4 L369.7 506.8 L371.7 508.4ZM344.2 520.4 L343.9 516.0 L345.2 518.3 L347.7 517.7ZM351.1 546.9 L347.5 544.4 L350.1 544.9 L351.3 542.5ZM357.4 519.6 L359.5 515.7 L359.3 518.3 L361.8 519.2ZM359.1 545.8 L355.6 543.0 L358.2 543.6 L359.5 541.4ZM400.9 497.1 L403.2 493.3 L402.8 495.9 L405.3 496.9ZM377.9 512.9 L379.3 508.8 L379.6 511.4 L382.2 511.8ZM367.9 538.1 L365.7 534.3 L367.9 535.8 L369.9 534.2ZM373.9 565.5 L370.8 562.3 L373.3 563.2 L374.9 561.1ZM550.3 494.6 L554.6 493.9 L552.4 495.4 L553.3 497.9ZM523.4 486.9 L527.6 485.7 L525.6 487.4 L526.7 489.8ZM495.6 483.4 L499.7 481.6 L497.9 483.6 L499.3 485.8ZM467.6 482.7 L471.5 480.5 L469.9 482.7 L471.6 484.7ZM439.7 484.8 L443.3 482.2 L442.0 484.5 L443.8 486.4ZM413.0 492.9 L415.7 489.4 L415.1 491.9 L417.4 493.2ZM389.5 508.0 L391.3 504.0 L391.3 506.6 L393.9 507.3ZM375.8 531.6 L374.4 527.4 L376.2 529.3 L378.5 528.1ZM379.2 559.3 L376.3 555.9 L378.7 557.0 L380.4 555.0ZM541.0 496.3 L545.4 495.8 L543.1 497.2 L543.8 499.7ZM514.0 489.1 L518.2 487.7 L516.2 489.5 L517.5 491.8ZM486.1 486.6 L490.1 484.6 L488.4 486.7 L489.9 488.8ZM458.1 487.5 L461.9 485.2 L460.4 487.4 L462.1 489.4ZM430.4 490.9 L433.7 487.9 L432.6 490.3 L434.7 492.0ZM405.3 503.0 L407.4 499.1 L407.2 501.7 L409.7 502.6ZM386.0 522.8 L386.1 518.4 L387.1 520.8 L389.7 520.5ZM384.2 550.3 L381.5 546.8 L383.8 548.0 L385.6 546.1ZM551.1 555.1 L554.0 551.7 L553.3 554.3 L555.5 555.6ZM528.5 543.2 L532.1 545.8 L529.5 545.3 L528.3 547.7ZM533.8 516.7 L533.2 521.1 L532.4 518.5 L529.8 518.6ZM528.3 500.1 L532.7 499.5 L530.5 500.9 L531.2 503.4ZM500.8 495.4 L504.8 493.6 L503.1 495.6 L504.5 497.8ZM472.8 494.7 L476.7 492.6 L475.1 494.7 L476.7 496.8ZM444.8 495.0 L448.5 492.6 L447.1 494.8 L448.8 496.8ZM418.2 503.1 L420.6 499.4 L420.2 502.0 L422.6 503.1ZM397.0 521.1 L397.8 516.7 L398.4 519.3 L401.1 519.3ZM390.7 547.6 L388.3 543.9 L390.5 545.3 L392.5 543.6ZM517.7 558.2 L518.6 562.5 L517.0 560.4 L514.6 561.3ZM523.3 530.8 L524.6 535.0 L522.9 533.0 L520.5 534.2ZM517.7 506.3 L522.1 506.5 L519.7 507.5 L520.0 510.1ZM490.3 501.5 L494.3 499.6 L492.6 501.6 L494.1 503.8ZM462.3 500.2 L466.4 498.4 L464.6 500.4 L466.0 502.6ZM434.5 502.1 L437.8 499.2 L436.8 501.6 L438.8 503.3ZM409.9 515.0 L411.7 511.0 L411.7 513.6 L414.3 514.2ZM396.3 538.8 L395.0 534.6 L396.7 536.5 L399.1 535.3ZM400.8 547.4 L398.0 544.0 L400.4 545.1 L402.1 543.1ZM405.5 551.5 L401.9 548.9 L404.5 549.4 L405.7 547.1ZM410.1 545.5 L406.5 542.9 L409.1 543.5 L410.3 541.1ZM433.9 558.6 L429.7 560.1 L431.6 558.3 L430.3 556.0ZM460.7 552.1 L458.2 555.8 L458.6 553.2 L456.2 552.1ZM482.1 534.3 L481.4 538.6 L480.7 536.1 L478.0 536.1ZM472.2 512.0 L476.6 512.1 L474.2 513.1 L474.6 515.8ZM445.3 505.2 L449.3 503.2 L447.6 505.3 L449.2 507.4ZM418.9 513.3 L421.1 509.5 L420.8 512.1 L423.3 513.1ZM404.0 535.9 L402.5 531.7 L404.3 533.6 L406.6 532.3ZM417.3 558.9 L412.9 558.5 L415.4 557.7 L415.3 555.0ZM478.7 547.8 L476.9 551.8 L476.9 549.2 L474.4 548.5ZM500.2 529.8 L498.5 533.9 L498.4 531.3 L495.9 530.7ZM500.3 510.6 L504.7 509.8 L502.5 511.3 L503.3 513.8ZM472.6 506.7 L476.8 505.5 L474.8 507.2 L475.9 509.6ZM492.4 546.0 L490.8 550.2 L490.7 547.5 L488.1 547.0ZM511.7 525.8 L511.3 530.2 L510.4 527.7 L507.8 527.9ZM489.6 558.0 L488.2 562.2 L488.0 559.6 L485.3 559.2ZM507.2 536.3 L506.6 540.7 L505.9 538.1 L503.2 538.2ZM499.1 558.7 L498.7 563.1 L497.8 560.6 L495.2 560.7ZM512.9 534.3 L513.0 538.7 L511.9 536.3 L509.3 536.8ZM510.7 509.5 L515.1 510.0 L512.5 510.8 L512.6 513.4ZM515.8 542.2 L516.2 546.6 L514.9 544.3 L512.3 545.0ZM521.0 515.1 L523.7 518.6 L521.4 517.4 L519.6 519.3ZM523.2 550.6 L525.7 554.3 L523.5 552.9 L521.5 554.7ZM525.2 549.9 L528.3 553.1 L525.8 552.1 L524.3 554.2ZM543.2 562.9 L547.2 560.9 L545.5 562.9 L547.1 565.1ZM443.5 549.0 L439.8 551.4 L441.2 549.1 L439.5 547.2ZM467.7 536.0 L466.7 540.3 L466.2 537.8 L463.6 537.5ZM455.1 516.3 L459.5 515.8 L457.2 517.1 L457.9 519.7ZM427.9 518.2 L430.6 514.6 L430.0 517.2 L432.3 518.4ZM420.1 541.5 L416.3 539.2 L418.9 539.5 L420.0 537.0ZM536.2 543.4 L540.4 544.7 L537.8 545.0 L537.4 547.6ZM542.5 519.2 L540.1 523.0 L540.5 520.4 L538.0 519.3ZM559.2 535.9 L557.2 532.0 L559.2 533.6 L561.4 532.1ZM542.1 539.1 L546.5 539.4 L544.1 540.4 L544.3 543.0ZM552.9 534.7 L550.3 531.1 L552.6 532.4 L554.4 530.5ZM453.7 537.0 L451.5 540.8 L451.8 538.2 L449.3 537.3ZM439.5 522.6 L443.1 520.0 L441.8 522.3 L443.6 524.2ZM366.7 519.2 L367.9 514.9 L368.3 517.5 L370.9 517.9ZM363.9 545.4 L360.9 542.2 L363.3 543.1 L364.9 541.0ZM485.1 535.2 L484.0 539.5 L483.5 536.9 L480.9 536.7ZM489.2 513.8 L493.6 513.4 L491.3 514.7 L491.9 517.3ZM241.0 518.2 L236.7 519.2 L238.8 517.6 L237.8 515.1ZM266.7 529.0 L262.3 528.8 L264.8 527.8 L264.4 525.2ZM287.9 547.2 L283.7 545.8 L286.3 545.5 L286.7 542.9ZM553.2 512.9 L549.0 514.3 L550.9 512.5 L549.7 510.2ZM319.0 487.7 L322.0 484.4 L321.1 486.9 L323.3 488.4ZM295.6 502.4 L296.4 498.1 L297.1 500.6 L299.7 500.7ZM295.2 529.2 L291.9 526.3 L294.4 527.0 L295.8 524.8ZM309.3 553.4 L305.4 551.3 L308.0 551.5 L308.9 549.0ZM260.9 502.0 L256.6 500.7 L259.3 500.3 L259.6 497.7ZM278.6 523.6 L274.6 521.8 L277.3 521.8 L278.0 519.2ZM295.2 546.2 L291.2 544.3 L293.8 544.4 L294.5 541.8ZM312.8 481.6 L316.0 478.6 L315.0 481.0 L317.1 482.7ZM286.0 489.6 L288.9 486.4 L288.1 488.9 L290.3 490.3ZM276.4 510.5 L273.4 507.3 L275.8 508.3 L277.4 506.2ZM258.9 508.5 L254.5 507.7 L257.1 507.1 L257.1 504.4ZM265.2 493.4 L266.9 489.3 L267.0 491.9 L269.6 492.5ZM273.8 487.1 L277.6 484.7 L276.1 486.9 L277.9 488.9ZM266.9 501.3 L262.9 499.4 L265.5 499.4 L266.2 496.9ZM252.9 489.3 L251.3 485.1 L253.2 487.0 L255.4 485.7ZM271.8 510.6 L267.8 508.7 L270.4 508.8 L271.2 506.3ZM393.0 473.7 L396.9 471.6 L395.3 473.7 L396.9 475.8ZM365.0 472.7 L369.0 470.8 L367.3 472.8 L368.9 475.0ZM337.1 473.0 L340.8 470.6 L339.4 472.8 L341.1 474.8ZM309.5 477.9 L312.9 475.0 L311.7 477.4 L313.7 479.1ZM281.8 481.7 L285.5 479.3 L284.1 481.5 L285.8 483.5ZM253.8 481.8 L257.9 480.0 L256.1 482.0 L257.6 484.2ZM539.1 465.4 L543.2 464.0 L541.3 465.8 L542.6 468.1ZM511.1 463.9 L515.0 461.8 L513.4 463.9 L515.0 466.0ZM483.2 465.4 L486.9 463.0 L485.5 465.2 L487.2 467.2ZM455.2 466.5 L459.1 464.3 L457.5 466.4 L459.1 468.5ZM427.2 467.9 L430.9 465.4 L429.5 467.7 L431.3 469.6ZM399.4 470.6 L403.1 468.3 L401.7 470.5 L403.4 472.5ZM371.4 470.1 L375.3 468.1 L373.7 470.1 L375.2 472.3ZM343.4 469.2 L347.3 467.2 L345.7 469.3 L347.3 471.4ZM315.6 471.9 L319.1 469.2 L317.8 471.5 L319.8 473.3ZM287.8 475.8 L291.5 473.3 L290.1 475.6 L291.9 477.5ZM259.9 476.8 L263.9 474.9 L262.2 476.9 L263.6 479.1ZM553.4 462.6 L557.7 461.4 L555.6 463.1 L556.7 465.5ZM525.7 459.2 L529.6 457.2 L528.0 459.3 L529.5 461.4ZM497.7 460.2 L501.4 457.8 L500.0 460.0 L501.8 462.0ZM469.8 462.3 L473.6 460.1 L472.1 462.2 L473.7 464.3ZM441.8 462.3 L445.7 460.2 L444.1 462.3 L445.7 464.4ZM413.8 463.7 L417.5 461.2 L416.1 463.5 L417.9 465.4ZM385.9 465.0 L389.8 462.9 L388.2 465.0 L389.8 467.1ZM357.9 464.7 L361.8 462.7 L360.2 464.7 L361.7 466.9ZM329.9 464.7 L333.7 462.3 L332.2 464.5 L333.9 466.5ZM302.2 468.7 L305.8 466.1 L304.5 468.4 L306.4 470.3ZM274.3 471.4 L278.1 469.1 L276.6 471.3 L278.3 473.3ZM246.8 466.9 L251.2 466.0 L249.0 467.5 L250.0 470.0ZM548.1 454.4 L552.3 453.0 L550.3 454.8 L551.6 457.2ZM520.1 453.1 L524.0 450.9 L522.4 453.0 L524.1 455.1ZM492.2 455.2 L495.9 452.7 L494.5 454.9 L496.3 456.9ZM464.3 456.8 L468.2 454.8 L466.6 456.8 L468.2 459.0ZM436.3 455.8 L440.3 453.9 L438.6 455.9 L440.1 458.1ZM408.3 456.3 L412.1 453.9 L410.6 456.2 L412.4 458.1ZM380.4 457.7 L384.2 455.5 L382.7 457.7 L384.4 459.7ZM352.4 457.5 L356.4 455.5 L354.7 457.6 L356.2 459.7ZM324.5 458.5 L328.1 455.9 L326.7 458.2 L328.6 460.1ZM296.8 462.9 L300.3 460.2 L299.1 462.6 L301.0 464.4ZM269.0 465.0 L273.1 463.3 L271.3 465.2 L272.7 467.5ZM242.6 456.0 L247.0 455.6 L244.7 456.9 L245.3 459.5ZM558.9 451.9 L563.1 450.6 L561.1 452.3 L562.3 454.7ZM531.1 448.3 L535.2 446.4 L533.4 448.4 L534.9 450.6ZM503.1 448.3 L506.9 446.1 L505.4 448.2 L507.1 450.3ZM475.2 450.3 L479.0 448.0 L477.5 450.2 L479.2 452.2ZM447.2 449.8 L451.2 447.9 L449.5 449.9 L451.0 452.1ZM419.2 449.3 L423.1 447.1 L421.5 449.3 L423.2 451.3ZM391.3 450.9 L395.1 448.7 L393.6 450.8 L395.3 452.8ZM363.3 451.4 L367.2 449.4 L365.6 451.4 L367.1 453.6ZM335.3 450.2 L339.2 448.1 L337.6 450.2 L339.3 452.3ZM307.5 453.3 L311.0 450.6 L309.8 452.9 L311.7 454.7ZM280.0 458.4 L283.6 455.9 L282.3 458.2 L284.1 460.1ZM252.9 452.4 L257.3 451.8 L255.0 453.2 L255.8 455.8ZM510.8 444.8 L514.8 442.9 L513.1 444.9 L514.6 447.1ZM482.8 444.9 L486.7 442.7 L485.1 444.8 L486.7 446.9ZM454.8 444.9 L458.7 442.8 L457.1 444.9 L458.7 447.0ZM426.8 444.9 L430.7 442.7 L429.1 444.9 L430.7 446.9ZM398.8 446.3 L402.7 444.1 L401.1 446.3 L402.8 448.3ZM370.8 446.7 L374.8 444.6 L373.1 446.7 L374.7 448.8ZM342.9 445.4 L346.8 443.4 L345.2 445.5 L346.7 447.6ZM314.9 446.2 L318.6 443.9 L317.2 446.1 L318.9 448.0ZM287.1 449.5 L290.7 446.9 L289.4 449.2 L291.2 451.0ZM259.3 448.3 L263.5 447.0 L261.5 448.8 L262.7 451.1ZM555.4 443.9 L559.7 442.7 L557.6 444.4 L558.7 446.8ZM527.9 438.6 L532.1 437.3 L530.2 439.0 L531.4 441.4ZM500.2 434.4 L504.3 432.8 L502.5 434.7 L503.9 436.9ZM472.3 432.6 L476.2 430.6 L474.6 432.7 L476.1 434.8ZM444.3 433.2 L448.1 430.9 L446.6 433.1 L448.3 435.1ZM416.4 435.4 L420.1 432.9 L418.7 435.2 L420.4 437.1ZM388.4 437.1 L392.3 434.9 L390.7 437.0 L392.4 439.1ZM360.5 436.3 L364.5 434.4 L362.7 436.5 L364.2 438.6ZM332.5 435.2 L336.4 433.2 L334.8 435.3 L336.3 437.4ZM304.5 435.1 L308.3 432.9 L306.8 435.1 L308.4 437.1ZM276.5 436.0 L280.3 433.7 L278.8 435.9 L280.5 437.9ZM248.5 436.7 L252.4 434.6 L250.8 436.7 L252.4 438.8ZM551.0 435.4 L555.3 434.3 L553.2 436.0 L554.3 438.4ZM523.7 429.0 L528.0 427.8 L526.0 429.5 L527.1 431.9ZM496.1 424.3 L500.3 422.6 L498.4 424.6 L499.8 426.8ZM468.2 422.7 L472.1 420.6 L470.5 422.7 L472.1 424.8ZM440.2 423.8 L444.0 421.4 L442.5 423.6 L444.3 425.6ZM412.4 426.7 L416.0 424.2 L414.7 426.4 L416.5 428.3ZM384.5 428.8 L388.3 426.6 L386.8 428.8 L388.4 430.8ZM356.5 428.2 L360.5 426.3 L358.8 428.3 L360.3 430.4ZM328.5 427.2 L332.5 425.2 L330.8 427.2 L332.4 429.4ZM300.5 427.1 L304.4 424.9 L302.8 427.1 L304.4 429.1ZM272.5 428.1 L276.3 425.8 L274.8 428.0 L276.5 430.0ZM244.5 428.9 L248.4 426.7 L246.8 428.9 L248.5 430.9ZM547.6 426.4 L551.9 425.5 L549.8 427.0 L550.7 429.5ZM520.5 419.5 L524.7 418.3 L522.7 420.0 L523.8 422.4ZM492.8 415.2 L496.9 413.5 L495.1 415.4 L496.5 417.7ZM464.8 414.3 L468.7 412.2 L467.1 414.3 L468.8 416.4ZM436.9 416.1 L440.6 413.6 L439.2 415.8 L441.0 417.8ZM409.2 419.9 L412.7 417.2 L411.4 419.5 L413.3 421.4ZM381.3 422.7 L385.1 420.4 L383.6 422.5 L385.3 424.6ZM353.3 422.1 L357.3 420.1 L355.6 422.2 L357.1 424.3ZM325.3 421.1 L329.3 419.1 L327.6 421.2 L329.2 423.3ZM297.3 421.1 L301.2 418.9 L299.6 421.0 L301.3 423.1ZM269.4 422.5 L273.2 420.2 L271.7 422.4 L273.4 424.4ZM241.4 423.0 L245.3 420.9 L243.7 423.0 L245.3 425.1ZM542.5 416.8 L546.8 415.9 L544.7 417.5 L545.6 419.9ZM515.3 410.1 L519.6 408.8 L517.6 410.6 L518.7 413.0ZM487.5 406.8 L491.6 404.9 L489.8 406.9 L491.3 409.1ZM459.6 406.9 L463.3 404.6 L461.9 406.8 L463.6 408.8ZM431.7 409.9 L435.3 407.2 L434.0 409.5 L435.9 411.4ZM404.1 414.6 L407.6 411.9 L406.4 414.2 L408.3 416.0ZM376.4 418.0 L380.1 415.7 L378.7 417.9 L380.4 419.9ZM348.4 417.4 L352.4 415.5 L350.7 417.5 L352.2 419.7ZM320.4 416.3 L324.3 414.3 L322.7 416.3 L324.2 418.5ZM292.4 416.2 L296.2 414.0 L294.7 416.2 L296.4 418.2ZM264.4 417.7 L268.3 415.5 L266.7 417.7 L268.4 419.7ZM236.4 417.6 L240.4 415.5 L238.7 417.6 L240.3 419.7ZM535.9 407.5 L540.2 406.5 L538.1 408.1 L539.1 410.5ZM508.5 401.9 L512.7 400.4 L510.8 402.2 L512.0 404.6ZM480.6 400.1 L484.5 398.1 L482.9 400.2 L484.4 402.3ZM452.6 401.7 L456.3 399.2 L454.9 401.5 L456.7 403.4ZM424.9 405.8 L428.4 403.0 L427.2 405.4 L429.1 407.2ZM397.5 411.4 L400.9 408.5 L399.7 410.9 L401.7 412.6ZM369.8 414.8 L373.6 412.6 L372.1 414.8 L373.7 416.8ZM341.8 413.7 L345.8 411.9 L344.1 413.9 L345.6 416.1ZM313.8 412.5 L317.8 410.5 L316.1 412.5 L317.6 414.7ZM285.8 412.6 L289.6 410.3 L288.1 412.5 L289.8 414.5ZM257.8 413.2 L261.7 411.1 L260.1 413.2 L261.7 415.3ZM536.6 400.5 L540.9 399.4 L538.8 401.1 L539.9 403.5ZM509.0 396.0 L513.1 394.3 L511.3 396.2 L512.6 398.5ZM481.0 394.9 L484.9 392.8 L483.3 394.9 L484.9 397.0ZM453.1 396.9 L456.8 394.4 L455.4 396.7 L457.2 398.6ZM425.5 401.4 L428.9 398.6 L427.7 400.9 L429.7 402.7ZM398.2 407.6 L401.4 404.6 L400.4 407.0 L402.5 408.7ZM370.6 412.3 L374.4 410.0 L372.9 412.1 L374.6 414.2ZM344.3 409.0 L348.3 407.2 L346.6 409.2 L348.0 411.4ZM316.3 407.3 L320.3 405.3 L318.6 407.4 L320.1 409.5ZM288.3 406.9 L292.2 404.8 L290.6 406.9 L292.2 409.0ZM260.3 406.6 L264.3 404.6 L262.6 406.7 L264.2 408.8ZM559.1 379.1 L563.1 377.2 L561.4 379.2 L562.9 381.4ZM531.2 377.6 L535.1 375.7 L533.5 377.7 L535.0 379.9ZM503.2 377.7 L507.0 375.5 L505.5 377.7 L507.1 379.7ZM475.2 379.3 L478.9 376.9 L477.5 379.1 L479.3 381.1ZM447.5 383.1 L451.0 380.4 L449.7 382.7 L451.7 384.5ZM420.1 389.0 L423.4 386.0 L422.3 388.5 L424.4 390.1ZM393.4 397.2 L396.2 393.8 L395.5 396.3 L397.8 397.7ZM366.3 403.5 L370.2 401.3 L368.6 403.4 L370.3 405.4ZM338.4 401.5 L342.5 399.8 L340.7 401.7 L342.1 403.9ZM310.5 399.9 L314.4 397.9 L312.8 400.0 L314.3 402.1ZM282.5 399.5 L286.4 397.5 L284.8 399.5 L286.3 401.7ZM254.5 398.2 L258.6 396.4 L256.8 398.4 L258.2 400.6ZM558.2 399.1 L562.5 398.0 L560.4 399.6 L561.4 402.1ZM530.8 393.3 L535.0 391.8 L533.1 393.7 L534.3 396.0ZM502.9 390.7 L506.9 388.8 L505.2 390.8 L506.7 393.0ZM474.9 391.0 L478.7 388.7 L477.2 390.9 L478.9 392.9ZM447.1 393.9 L450.7 391.3 L449.4 393.6 L451.2 395.5ZM419.6 399.1 L422.9 396.2 L421.8 398.6 L423.8 400.3ZM392.5 406.4 L395.6 403.2 L394.7 405.7 L396.9 407.2ZM546.8 366.9 L550.7 364.8 L549.1 366.9 L550.6 369.0ZM518.8 366.9 L522.6 364.7 L521.1 366.9 L522.7 368.9ZM490.8 368.2 L494.5 365.8 L493.1 368.0 L494.9 370.0ZM463.0 371.6 L466.5 368.9 L465.3 371.2 L467.2 373.1ZM435.5 377.0 L438.9 374.1 L437.8 376.5 L439.8 378.2ZM408.4 383.7 L411.6 380.7 L410.6 383.1 L412.7 384.7ZM382.3 394.0 L385.3 390.6 L384.5 393.2 L386.7 394.6ZM354.6 396.1 L358.7 394.3 L356.9 396.3 L358.4 398.5ZM326.7 393.9 L330.7 392.1 L329.0 394.1 L330.5 396.3ZM298.7 393.3 L302.6 391.2 L301.0 393.3 L302.6 395.4ZM270.7 392.9 L274.7 391.0 L273.0 393.0 L274.5 395.2ZM242.9 389.9 L247.1 388.3 L245.2 390.2 L246.5 392.5ZM554.6 391.0 L558.8 389.6 L556.8 391.4 L558.0 393.8ZM526.8 387.3 L530.9 385.5 L529.1 387.5 L530.5 389.7ZM498.8 386.2 L502.7 384.1 L501.1 386.2 L502.7 388.3ZM470.9 387.3 L474.6 384.9 L473.2 387.1 L474.9 389.1ZM443.1 390.8 L446.6 388.2 L445.4 390.5 L447.3 392.3ZM415.7 396.6 L419.0 393.6 L417.9 396.0 L420.0 397.7ZM389.0 404.9 L392.0 401.6 L391.2 404.1 L393.4 405.6ZM538.3 360.0 L542.2 357.9 L540.6 360.0 L542.2 362.1ZM510.3 360.5 L514.1 358.3 L512.6 360.4 L514.2 362.5ZM482.4 362.7 L486.0 360.2 L484.6 362.4 L486.5 364.3ZM454.7 367.1 L458.1 364.3 L457.0 366.7 L459.0 368.4ZM427.4 373.3 L430.7 370.3 L429.6 372.7 L431.7 374.4ZM400.3 380.2 L403.4 377.1 L402.5 379.6 L404.6 381.1ZM373.6 388.5 L377.1 385.7 L375.9 388.1 L377.8 389.9ZM345.6 388.3 L349.7 386.4 L347.9 388.4 L349.4 390.6ZM317.7 387.2 L321.6 385.1 L320.0 387.2 L321.5 389.3ZM289.7 387.5 L293.5 385.4 L292.0 387.5 L293.6 389.6ZM261.7 386.2 L265.9 384.6 L264.0 386.5 L265.3 388.8ZM234.6 379.2 L239.0 378.4 L236.8 379.9 L237.7 382.4ZM553.1 355.7 L557.0 353.6 L555.4 355.7 L557.0 357.8ZM525.1 355.9 L529.0 353.7 L527.4 355.8 L529.1 357.9ZM497.2 357.2 L500.9 354.8 L499.5 357.0 L501.2 359.0ZM469.4 360.6 L472.9 358.0 L471.7 360.3 L473.6 362.1ZM442.0 366.3 L445.3 363.3 L444.2 365.7 L446.2 367.4ZM414.7 372.8 L418.0 369.8 L417.0 372.2 L419.0 373.9ZM387.6 379.7 L390.9 376.7 L389.8 379.1 L391.9 380.8ZM359.8 382.3 L363.7 380.3 L362.1 382.3 L363.7 384.5ZM331.8 381.2 L335.8 379.2 L334.1 381.3 L335.6 383.4ZM303.8 381.1 L307.7 378.9 L306.1 381.0 L307.8 383.1ZM275.8 381.2 L279.8 379.3 L278.1 381.3 L279.7 383.5ZM248.5 375.6 L252.9 374.8 L250.7 376.3 L251.6 378.8ZM416.7 369.6 L420.0 366.6 L419.0 369.1 L421.0 370.7ZM389.4 375.4 L392.9 372.8 L391.6 375.1 L393.5 376.9ZM361.4 376.5 L365.4 374.4 L363.7 376.5 L365.3 378.6ZM333.4 375.4 L337.4 373.5 L335.7 375.5 L337.2 377.7ZM305.4 374.7 L309.4 372.6 L307.7 374.7 L309.3 376.8ZM277.4 374.6 L281.4 372.6 L279.7 374.7 L281.3 376.8ZM250.2 368.7 L254.6 368.0 L252.4 369.4 L253.2 371.9ZM548.2 347.7 L552.1 345.6 L550.5 347.7 L552.1 349.8ZM520.2 348.3 L524.0 346.0 L522.5 348.2 L524.2 350.2ZM492.3 350.3 L495.9 347.9 L494.6 350.1 L496.4 352.0ZM464.5 354.2 L468.0 351.5 L466.8 353.8 L468.7 355.6ZM437.2 360.2 L440.5 357.3 L439.4 359.7 L441.5 361.4ZM410.1 367.2 L413.3 364.2 L412.3 366.7 L414.4 368.3ZM382.4 370.3 L386.3 368.2 L384.7 370.3 L386.3 372.4ZM354.4 369.5 L358.3 367.5 L356.7 369.6 L358.2 371.7ZM326.4 368.7 L330.4 366.8 L328.7 368.8 L330.2 370.9ZM298.4 367.8 L302.4 365.7 L300.7 367.8 L302.3 369.9ZM270.5 367.0 L274.6 365.3 L272.7 367.2 L274.1 369.5ZM243.6 359.2 L248.0 358.6 L245.8 360.0 L246.5 362.6ZM546.2 340.0 L550.1 337.8 L548.5 339.9 L550.2 342.0ZM518.3 341.0 L522.0 338.7 L520.6 340.9 L522.3 342.9ZM490.4 343.4 L494.0 340.9 L492.6 343.1 L494.5 345.0ZM462.7 347.5 L466.1 344.7 L464.9 347.1 L466.9 348.9ZM435.4 353.7 L438.6 350.7 L437.6 353.1 L439.7 354.8ZM408.4 361.1 L411.6 358.1 L410.6 360.5 L412.7 362.1ZM380.6 363.3 L384.5 361.3 L382.9 363.3 L384.5 365.5ZM352.6 363.0 L356.5 360.9 L354.9 363.0 L356.4 365.1ZM324.6 362.1 L328.6 360.2 L326.9 362.2 L328.4 364.4ZM296.6 360.7 L300.6 358.7 L298.9 360.8 L300.4 362.9ZM268.7 359.0 L272.9 357.6 L271.0 359.4 L272.2 361.7ZM242.0 350.7 L246.4 349.9 L244.2 351.4 L245.0 353.9ZM542.5 332.7 L546.3 330.5 L544.8 332.6 L546.5 334.7ZM514.5 334.2 L518.3 331.8 L516.8 334.1 L518.6 336.0ZM486.7 337.2 L490.3 334.6 L489.0 336.9 L490.9 338.8ZM459.1 341.9 L462.5 339.0 L461.4 341.4 L463.3 343.2ZM431.9 348.3 L435.1 345.3 L434.1 347.7 L436.2 349.4ZM404.9 355.8 L408.2 352.9 L407.1 355.3 L409.2 356.9ZM377.0 356.9 L380.9 354.9 L379.3 356.9 L380.8 359.1ZM349.0 356.3 L352.9 354.3 L351.3 356.4 L352.9 358.5ZM321.0 355.6 L325.0 353.7 L323.3 355.8 L324.8 357.9ZM293.1 353.8 L297.1 351.8 L295.4 353.9 L296.9 356.0ZM265.2 352.7 L269.5 351.5 L267.4 353.2 L268.5 355.6ZM238.7 343.5 L243.1 342.7 L240.9 344.2 L241.8 346.7ZM534.3 324.1 L538.1 321.8 L536.6 324.0 L538.2 326.0ZM506.4 326.6 L510.0 324.1 L508.7 326.3 L510.5 328.2ZM478.7 330.7 L482.2 328.0 L481.0 330.3 L482.9 332.1ZM451.2 336.3 L454.6 333.4 L453.5 335.8 L455.5 337.5ZM424.1 343.1 L427.3 340.0 L426.3 342.5 L428.4 344.1ZM396.9 349.5 L400.5 347.0 L399.2 349.2 L401.0 351.2ZM368.9 349.5 L372.8 347.4 L371.2 349.5 L372.8 351.6ZM340.9 349.4 L344.8 347.3 L343.2 349.4 L344.8 351.5ZM312.9 348.4 L316.9 346.5 L315.2 348.5 L316.7 350.7ZM285.0 345.7 L289.0 343.8 L287.3 345.8 L288.9 348.0ZM257.9 341.3 L262.4 341.2 L260.0 342.3 L260.4 344.9ZM242.2 319.8 L244.9 323.3 L242.6 322.0 L240.7 323.9ZM246.0 292.2 L246.9 296.5 L245.3 294.4 L242.8 295.3ZM262.6 270.2 L260.9 274.2 L260.8 271.6 L258.3 271.0ZM285.7 254.3 L283.8 258.3 L283.9 255.7 L281.3 255.0ZM307.5 236.7 L305.9 240.9 L305.7 238.2 L303.2 237.7ZM328.8 218.6 L327.1 222.7 L327.0 220.0 L324.5 219.4ZM351.5 202.2 L349.5 206.2 L349.6 203.5 L347.1 202.7ZM374.6 186.3 L372.7 190.3 L372.7 187.7 L370.2 187.0ZM395.5 167.8 L394.0 171.9 L393.8 169.3 L391.2 168.8ZM419.7 153.8 L417.1 157.4 L417.6 154.8 L415.3 153.6ZM445.4 142.7 L442.5 146.0 L443.2 143.5 L441.0 142.1ZM472.5 135.7 L469.0 138.4 L470.2 136.1 L468.3 134.3ZM500.3 132.4 L496.5 134.8 L498.0 132.5 L496.2 130.6ZM528.2 131.8 L524.3 133.8 L525.9 131.8 L524.4 129.6ZM556.2 133.7 L552.1 135.5 L553.9 133.5 L552.5 131.3ZM556.0 315.0 L559.8 312.8 L558.3 314.9 L560.0 316.9ZM528.1 316.3 L531.8 313.9 L530.4 316.1 L532.1 318.1ZM500.2 319.2 L503.8 316.6 L502.5 318.9 L504.3 320.8ZM472.6 323.5 L476.0 320.8 L474.8 323.1 L476.8 324.9ZM445.1 329.2 L448.5 326.3 L447.4 328.7 L449.4 330.4ZM418.0 336.0 L421.2 333.0 L420.2 335.4 L422.3 337.0ZM390.4 340.4 L394.3 338.2 L392.7 340.4 L394.4 342.4ZM362.4 340.7 L366.3 338.5 L364.7 340.6 L366.4 342.7ZM334.5 342.0 L338.3 339.9 L336.8 342.0 L338.4 344.1ZM306.5 340.8 L310.5 338.9 L308.8 340.9 L310.2 343.1ZM279.2 335.1 L283.6 334.5 L281.3 335.9 L282.1 338.4ZM264.5 312.9 L267.1 316.5 L264.8 315.2 L263.0 317.1ZM268.6 285.5 L269.1 289.9 L267.8 287.6 L265.2 288.3ZM285.3 263.1 L284.3 267.5 L283.8 264.9 L281.1 264.7ZM304.4 242.8 L303.0 247.0 L302.8 244.4 L300.2 243.9ZM550.8 318.2 L554.6 315.9 L553.1 318.1 L554.8 320.1ZM522.9 319.6 L526.6 317.2 L525.2 319.4 L526.9 321.4ZM495.1 323.0 L498.6 320.3 L497.3 322.6 L499.2 324.5ZM467.5 327.9 L470.9 325.1 L469.8 327.4 L471.7 329.2ZM440.2 334.0 L443.5 331.0 L442.4 333.5 L444.5 335.1ZM413.1 341.0 L416.3 338.0 L415.3 340.4 L417.4 342.0ZM385.4 344.7 L389.3 342.6 L387.7 344.7 L389.3 346.8ZM357.4 344.9 L361.3 342.7 L359.7 344.9 L361.4 346.9ZM329.4 345.0 L333.4 343.0 L331.7 345.1 L333.3 347.2ZM301.5 343.3 L305.6 341.7 L303.8 343.6 L305.2 345.8ZM273.8 339.5 L278.0 338.3 L276.0 340.0 L277.2 342.4ZM254.5 321.3 L257.6 324.4 L255.2 323.5 L253.6 325.7ZM255.7 293.6 L256.7 297.9 L255.1 295.8 L252.7 296.9ZM271.8 271.2 L270.3 275.4 L270.1 272.7 L267.5 272.3ZM555.1 327.0 L558.9 324.8 L557.4 326.9 L559.0 329.0ZM527.1 328.1 L530.8 325.8 L529.4 328.0 L531.1 330.0ZM499.2 330.8 L502.8 328.2 L501.5 330.5 L503.3 332.4ZM471.5 335.1 L475.0 332.4 L473.8 334.7 L475.7 336.5ZM444.2 340.9 L447.5 338.0 L446.4 340.4 L448.4 342.1ZM417.1 348.1 L420.3 345.0 L419.3 347.5 L421.4 349.0ZM389.6 352.7 L393.6 350.7 L391.9 352.7 L393.5 354.9ZM361.6 352.3 L365.6 350.2 L363.9 352.3 L365.5 354.4ZM333.6 352.2 L337.6 350.1 L335.9 352.2 L337.5 354.3ZM305.7 350.6 L309.8 348.8 L308.0 350.8 L309.4 353.0ZM277.8 349.7 L281.4 347.2 L280.1 349.4 L281.9 351.3ZM251.1 343.1 L255.5 342.9 L253.2 344.1 L253.7 346.7ZM544.7 312.3 L548.5 310.0 L547.0 312.2 L548.7 314.2ZM516.7 314.1 L520.4 311.7 L519.0 313.9 L520.8 315.9ZM488.9 317.1 L492.5 314.5 L491.2 316.8 L493.0 318.7ZM461.1 320.7 L464.7 318.0 L463.4 320.3 L465.3 322.1ZM433.7 326.4 L437.0 323.5 L436.0 325.9 L438.0 327.5ZM406.5 332.7 L409.9 330.0 L408.7 332.3 L410.7 334.1ZM378.5 333.5 L382.4 331.5 L380.8 333.6 L382.4 335.7ZM350.5 333.9 L354.4 331.8 L352.8 333.9 L354.4 336.0ZM323.0 329.7 L327.3 328.7 L325.2 330.3 L326.1 332.8ZM298.7 317.1 L302.7 318.9 L300.1 319.0 L299.4 321.5ZM291.4 290.4 L293.8 294.1 L291.6 292.7 L289.6 294.4ZM296.4 263.1 L296.6 267.5 L295.4 265.2 L292.8 265.8ZM313.1 240.7 L312.1 245.1 L311.6 242.5 L308.9 242.3ZM333.0 221.0 L331.5 225.2 L331.3 222.6 L328.7 222.1ZM354.9 203.6 L353.0 207.6 L353.0 204.9 L350.5 204.2ZM239.4 331.4 L243.6 332.9 L240.9 333.1 L240.5 335.7ZM381.8 335.9 L385.7 333.9 L384.1 336.0 L385.7 338.1ZM353.8 336.7 L357.6 334.4 L356.1 336.6 L357.8 338.6ZM325.8 336.5 L329.9 334.8 L328.1 336.8 L329.5 339.0ZM298.2 332.2 L302.6 331.5 L300.4 333.0 L301.3 335.5ZM281.1 311.9 L284.0 315.3 L281.6 314.2 L279.9 316.2ZM282.0 284.1 L283.3 288.3 L281.5 286.3 L279.2 287.5ZM292.8 258.3 L292.8 262.8 L291.7 260.4 L289.1 260.8ZM451.9 319.6 L455.4 316.9 L454.2 319.2 L456.1 321.0ZM424.5 325.2 L427.9 322.3 L426.8 324.7 L428.8 326.4ZM396.9 329.1 L400.7 326.9 L399.2 329.0 L400.8 331.1ZM369.0 326.7 L373.1 325.1 L371.2 327.0 L372.6 329.2ZM346.0 313.6 L349.9 315.8 L347.2 315.6 L346.3 318.0ZM338.7 286.8 L341.1 290.5 L338.9 289.1 L336.9 290.9ZM341.1 259.0 L342.3 263.2 L340.6 261.2 L338.2 262.4ZM355.5 235.2 L354.8 239.5 L354.1 237.0 L351.5 237.0ZM373.5 213.7 L372.3 218.0 L371.9 215.4 L369.3 215.1ZM393.9 194.6 L392.4 198.7 L392.2 196.1 L389.6 195.6ZM415.7 177.0 L413.7 181.0 L413.8 178.3 L411.3 177.5ZM439.7 162.8 L437.1 166.3 L437.7 163.8 L435.3 162.6ZM466.2 153.8 L462.9 156.7 L464.0 154.3 L461.9 152.7ZM493.9 150.0 L490.2 152.4 L491.6 150.2 L489.9 148.2ZM521.9 150.2 L517.8 152.0 L519.6 150.0 L518.2 147.8ZM549.6 154.4 L545.3 155.7 L547.3 154.0 L546.1 151.6ZM374.1 330.8 L378.0 328.9 L376.4 330.9 L377.9 333.1ZM346.2 328.8 L350.5 327.6 L348.4 329.3 L349.5 331.7ZM329.3 308.2 L332.4 311.3 L329.9 310.4 L328.4 312.6ZM323.8 280.8 L326.2 284.6 L324.0 283.1 L322.0 284.8ZM331.1 254.1 L331.1 258.6 L330.0 256.2 L327.4 256.6ZM347.8 231.7 L346.9 236.1 L346.3 233.5 L343.7 233.4ZM366.5 210.9 L365.3 215.2 L365.0 212.6 L362.3 212.3ZM386.9 191.7 L385.4 195.8 L385.2 193.2 L382.6 192.7ZM408.2 173.6 L406.2 177.5 L406.3 174.9 L403.8 174.1ZM432.6 159.9 L430.0 163.5 L430.6 160.9 L428.2 159.7ZM458.8 150.2 L455.7 153.3 L456.6 150.8 L454.5 149.3ZM486.4 145.5 L482.8 148.0 L484.1 145.7 L482.3 143.8ZM514.4 144.4 L510.4 146.5 L512.1 144.4 L510.5 142.3ZM542.2 147.2 L538.1 148.7 L540.0 146.8 L538.7 144.5ZM397.5 326.2 L401.5 324.3 L399.8 326.3 L401.4 328.5ZM370.4 319.9 L374.9 319.5 L372.6 320.8 L373.2 323.4ZM352.5 299.1 L356.1 301.6 L353.5 301.2 L352.4 303.6ZM345.7 272.2 L348.0 276.0 L345.9 274.5 L343.8 276.2ZM353.9 246.0 L353.6 250.4 L352.6 247.9 L350.0 248.2ZM370.7 223.6 L369.8 228.0 L369.2 225.4 L366.6 225.3ZM390.3 203.7 L388.9 207.9 L388.7 205.3 L386.1 204.8ZM411.1 184.9 L409.5 189.0 L409.3 186.4 L406.8 185.8ZM434.0 168.7 L431.8 172.6 L432.0 170.0 L429.5 169.0ZM328.3 325.7 L332.7 325.8 L330.3 326.9 L330.6 329.5ZM310.7 304.9 L313.9 308.0 L311.4 307.1 L309.8 309.2ZM309.0 277.0 L310.9 281.0 L308.9 279.3 L306.7 280.8ZM317.1 250.4 L317.0 254.8 L315.9 252.4 L313.3 252.8ZM335.1 229.0 L333.9 233.3 L333.5 230.7 L330.9 230.4ZM355.5 209.8 L354.0 214.0 L353.7 211.4 L351.2 210.9ZM376.6 191.5 L375.0 195.6 L374.9 193.0 L372.3 192.4ZM397.3 172.6 L395.8 176.8 L395.6 174.2 L393.0 173.7ZM421.0 157.9 L418.5 161.6 L419.0 159.0 L416.6 157.8ZM446.7 146.9 L443.8 150.2 L444.6 147.7 L442.4 146.2ZM473.9 140.2 L470.4 142.9 L471.6 140.6 L469.7 138.8ZM501.7 137.5 L498.0 139.8 L499.5 137.6 L497.7 135.6ZM529.7 137.8 L525.7 139.7 L527.4 137.7 L526.0 135.5ZM557.5 141.3 L553.3 142.8 L555.2 140.9 L554.0 138.6ZM544.9 309.0 L548.7 306.7 L547.2 308.9 L548.9 310.9ZM517.0 310.8 L520.7 308.4 L519.3 310.7 L521.0 312.6ZM489.1 313.2 L492.8 310.8 L491.4 313.0 L493.1 315.0ZM461.2 315.4 L464.9 312.9 L463.5 315.2 L465.2 317.1ZM433.5 319.4 L437.0 316.6 L435.7 319.0 L437.6 320.8ZM405.7 322.7 L409.6 320.6 L408.0 322.7 L409.6 324.8ZM379.4 314.3 L383.8 314.7 L381.3 315.6 L381.5 318.2ZM358.1 296.2 L362.3 297.6 L359.7 297.9 L359.3 300.5ZM348.6 270.5 L350.8 274.3 L348.7 272.8 L346.6 274.4ZM358.3 244.7 L358.0 249.1 L357.1 246.6 L354.5 246.8ZM467.9 312.3 L471.6 310.0 L470.2 312.2 L471.9 314.2ZM440.0 314.8 L443.6 312.3 L442.3 314.6 L444.1 316.5ZM412.1 317.2 L416.0 315.0 L414.4 317.1 L416.0 319.2ZM385.5 309.2 L389.9 309.1 L387.6 310.3 L388.0 312.9ZM363.4 292.2 L367.6 293.6 L365.0 293.9 L364.5 296.5ZM355.9 266.1 L357.7 270.1 L355.7 268.4 L353.5 269.8ZM367.8 240.9 L367.3 245.3 L366.5 242.8 L363.8 243.0ZM385.4 219.2 L384.3 223.5 L383.9 220.9 L381.2 220.6ZM405.1 199.3 L403.8 203.5 L403.5 200.9 L400.9 200.6ZM425.9 180.6 L424.2 184.7 L424.1 182.0 L421.6 181.4ZM449.4 165.6 L446.7 169.1 L447.3 166.6 L445.0 165.3ZM476.3 158.0 L472.8 160.7 L474.0 158.4 L472.1 156.6ZM504.2 155.6 L500.3 157.8 L501.9 155.7 L500.2 153.6ZM532.1 157.7 L527.9 159.2 L529.8 157.3 L528.5 155.0ZM559.5 163.4 L555.2 164.5 L557.2 162.8 L556.2 160.4ZM545.1 302.2 L548.9 299.8 L547.4 302.0 L549.2 304.0ZM517.2 304.4 L520.9 302.0 L519.5 304.2 L521.3 306.2ZM489.3 306.4 L493.1 304.1 L491.6 306.3 L493.3 308.3ZM461.3 307.6 L465.1 305.3 L463.6 307.5 L465.3 309.5ZM433.4 309.3 L437.1 307.0 L435.7 309.2 L437.4 311.2ZM405.4 309.3 L409.5 307.6 L407.7 309.5 L409.1 311.8ZM380.0 298.0 L384.4 298.5 L381.9 299.3 L382.1 302.0ZM363.9 275.9 L367.0 279.1 L364.5 278.1 L363.0 280.3ZM369.5 249.1 L369.6 253.6 L368.5 251.2 L365.9 251.6ZM385.4 226.1 L384.6 230.4 L384.0 227.9 L381.3 227.8ZM404.5 205.6 L403.4 209.9 L402.9 207.3 L400.3 207.0ZM424.5 186.0 L423.0 190.2 L422.8 187.5 L420.2 187.0ZM447.0 169.5 L444.5 173.2 L444.9 170.6 L442.6 169.4ZM547.7 292.5 L551.3 290.0 L549.9 292.3 L551.8 294.2ZM519.9 295.9 L523.5 293.4 L522.1 295.7 L524.0 297.5ZM492.0 298.7 L495.7 296.3 L494.3 298.5 L496.0 300.5ZM464.0 299.9 L467.8 297.6 L466.3 299.8 L468.0 301.8ZM436.1 301.3 L439.9 299.0 L438.4 301.2 L440.1 303.2ZM408.1 302.1 L412.0 300.1 L410.4 302.1 L411.9 304.3ZM382.9 291.0 L387.3 291.7 L384.7 292.4 L384.7 295.1ZM370.7 266.8 L372.9 270.6 L370.8 269.1 L368.7 270.8ZM380.8 241.1 L380.5 245.5 L379.5 243.1 L376.9 243.3ZM397.9 219.0 L396.9 223.3 L396.4 220.7 L393.8 220.5ZM416.7 198.3 L415.5 202.5 L415.1 199.9 L412.5 199.6ZM437.6 179.6 L435.9 183.7 L435.8 181.0 L433.2 180.4ZM462.4 166.9 L459.4 170.1 L460.2 167.6 L458.0 166.2ZM489.8 161.5 L486.1 164.0 L487.5 161.7 L485.7 159.8ZM517.8 161.3 L513.7 163.2 L515.5 161.2 L514.0 159.0ZM545.4 165.8 L541.1 167.0 L543.1 165.3 L542.0 162.9ZM553.7 284.2 L557.1 281.4 L555.9 283.8 L557.9 285.5ZM526.1 289.2 L529.6 286.5 L528.4 288.8 L530.3 290.6ZM498.4 293.4 L502.1 290.9 L500.7 293.1 L502.6 295.0ZM470.5 294.9 L474.3 292.6 L472.8 294.8 L474.4 296.8ZM442.5 295.7 L446.3 293.5 L444.8 295.6 L446.5 297.7ZM414.5 295.6 L418.5 293.6 L416.8 295.7 L418.3 297.8ZM388.8 286.1 L393.2 286.9 L390.6 287.5 L390.5 290.2ZM376.7 261.9 L378.9 265.7 L376.8 264.2 L374.7 265.9ZM387.7 236.5 L387.4 240.9 L386.5 238.5 L383.9 238.7ZM405.3 214.7 L404.4 219.1 L403.8 216.5 L401.2 216.4ZM538.5 282.7 L541.8 279.7 L540.8 282.1 L542.8 283.8ZM511.2 288.8 L514.6 285.9 L513.5 288.3 L515.4 290.1ZM483.4 292.0 L487.2 289.7 L485.7 291.9 L487.4 293.9ZM455.4 292.1 L459.4 290.1 L457.7 292.1 L459.2 294.3ZM427.5 290.5 L431.6 288.8 L429.8 290.8 L431.1 293.0ZM400.4 284.2 L404.8 284.0 L402.4 285.2 L403.0 287.8ZM384.7 262.2 L387.5 265.7 L385.1 264.5 L383.4 266.4ZM394.3 236.4 L393.9 240.8 L393.1 238.3 L390.4 238.5ZM411.8 214.6 L411.1 218.9 L410.4 216.4 L407.8 216.3ZM431.0 194.3 L429.6 198.4 L429.4 195.8 L426.8 195.3ZM453.8 178.1 L451.4 181.8 L451.8 179.2 L449.4 178.2ZM480.1 169.0 L476.7 171.8 L477.9 169.4 L475.9 167.6ZM508.0 166.7 L504.1 168.8 L505.7 166.7 L504.1 164.6ZM535.8 169.7 L531.6 171.1 L533.6 169.3 L532.4 166.9ZM563.0 176.4 L558.7 177.3 L560.8 175.8 L559.8 173.3ZM244.8 273.7 L243.4 278.0 L243.1 275.3 L240.5 274.9ZM268.8 259.5 L266.2 263.1 L266.7 260.5 L264.3 259.3ZM292.8 245.1 L290.8 249.1 L290.9 246.4 L288.4 245.6ZM430.1 284.5 L434.5 284.0 L432.2 285.4 L432.9 287.9ZM413.6 263.5 L416.7 266.7 L414.2 265.7 L412.6 267.8ZM416.4 236.1 L417.1 240.5 L415.6 238.3 L413.1 239.1ZM431.3 212.6 L430.4 216.9 L429.8 214.4 L427.2 214.2ZM452.3 194.1 L450.4 198.1 L450.4 195.5 L447.9 194.7ZM477.4 181.9 L474.4 185.2 L475.2 182.7 L473.0 181.2ZM505.0 177.4 L501.2 179.7 L502.7 177.5 L501.0 175.5ZM532.8 179.4 L528.7 180.9 L530.6 179.0 L529.3 176.7ZM559.8 186.6 L555.4 187.1 L557.7 185.7 L557.0 183.2ZM556.1 260.7 L557.0 256.4 L557.6 258.9 L560.2 259.0ZM533.1 276.0 L536.0 272.6 L535.2 275.2 L537.5 276.6ZM506.1 283.5 L509.5 280.7 L508.4 283.0 L510.4 284.8ZM478.3 286.1 L482.2 284.0 L480.6 286.1 L482.2 288.2ZM452.3 278.1 L456.6 279.1 L454.0 279.6 L453.8 282.2ZM442.1 252.7 L444.3 256.5 L442.2 255.0 L440.1 256.7ZM450.4 226.3 L450.3 230.7 L449.3 228.3 L446.7 228.6ZM469.5 206.0 L467.7 210.1 L467.7 207.4 L465.2 206.7ZM494.7 194.0 L491.6 197.2 L492.5 194.7 L490.3 193.2ZM522.4 190.4 L518.5 192.5 L520.1 190.4 L518.5 188.3ZM549.6 196.1 L545.1 196.4 L547.5 195.1 L546.8 192.6ZM418.3 283.8 L422.7 283.0 L420.5 284.5 L421.4 287.0ZM399.8 264.4 L403.0 267.5 L400.5 266.6 L399.0 268.8ZM405.1 237.4 L405.5 241.8 L404.2 239.5 L401.7 240.2ZM419.8 213.6 L419.0 218.0 L418.3 215.4 L415.7 215.4ZM439.3 193.6 L437.8 197.7 L437.6 195.1 L435.0 194.6ZM462.7 178.3 L460.2 182.0 L460.6 179.4 L458.2 178.2ZM489.6 171.1 L486.0 173.8 L487.3 171.5 L485.5 169.6ZM517.6 170.4 L513.5 172.3 L515.3 170.3 L513.8 168.1ZM545.1 175.0 L540.9 176.2 L542.9 174.5 L541.8 172.1ZM546.1 275.2 L548.7 271.6 L548.2 274.2 L550.5 275.4ZM519.4 283.5 L522.6 280.4 L521.6 282.9 L523.7 284.5ZM491.8 288.4 L495.5 285.9 L494.1 288.1 L495.9 290.1ZM463.9 288.3 L467.9 286.5 L466.2 288.5 L467.6 290.7ZM439.8 276.0 L443.9 277.8 L441.2 277.8 L440.6 280.4ZM431.2 249.8 L433.5 253.6 L431.3 252.1 L429.3 253.8ZM439.7 223.5 L439.6 227.9 L438.6 225.5 L435.9 225.8ZM458.4 202.8 L456.7 206.9 L456.6 204.3 L454.1 203.7ZM483.7 191.0 L480.7 194.3 L481.5 191.8 L479.3 190.3ZM511.2 186.5 L507.4 188.8 L508.9 186.6 L507.2 184.6ZM539.1 188.7 L534.8 190.0 L536.8 188.2 L535.6 185.9ZM564.1 200.5 L559.7 199.6 L562.3 199.0 L562.5 196.4ZM459.9 273.2 L464.3 273.8 L461.8 274.5 L461.8 277.2ZM451.7 247.7 L453.2 251.9 L451.3 250.0 L449.0 251.3ZM465.0 223.5 L464.0 227.8 L463.5 225.2 L460.9 225.0ZM487.3 206.7 L484.9 210.4 L485.3 207.8 L482.8 206.8ZM513.5 197.3 L510.1 200.1 L511.3 197.7 L509.3 196.0ZM541.2 198.7 L536.9 199.6 L539.0 198.0 L538.1 195.6ZM561.4 216.9 L557.8 214.3 L560.4 214.8 L561.6 212.5ZM558.8 243.6 L558.8 239.2 L559.9 241.6 L562.5 241.1ZM540.0 264.1 L541.9 260.0 L541.8 262.7 L544.4 263.4ZM514.7 275.8 L517.8 272.6 L516.9 275.1 L519.0 276.6ZM487.1 280.1 L490.9 277.9 L489.4 280.0 L491.1 282.1ZM427.0 270.5 L430.8 272.8 L428.2 272.5 L427.2 275.0ZM422.4 243.5 L424.0 247.6 L422.1 245.7 L419.8 247.1ZM435.0 218.8 L434.3 223.1 L433.6 220.6 L431.0 220.5ZM455.3 199.6 L453.4 203.6 L453.4 200.9 L450.9 200.2ZM480.9 188.4 L477.8 191.6 L478.7 189.1 L476.5 187.6ZM508.4 183.9 L504.6 186.1 L506.1 184.0 L504.4 181.9ZM536.3 185.8 L532.1 187.3 L534.0 185.5 L532.7 183.2ZM241.3 268.6 L238.6 272.1 L239.2 269.5 L236.9 268.3ZM467.3 269.1 L471.7 269.5 L469.2 270.4 L469.4 273.0ZM460.2 243.7 L461.4 248.0 L459.7 246.0 L457.3 247.1ZM476.4 221.3 L474.9 225.4 L474.7 222.8 L472.1 222.3ZM500.3 207.0 L497.6 210.5 L498.2 207.9 L495.9 206.6ZM527.6 201.4 L523.8 203.6 L525.3 201.5 L523.7 199.4ZM553.1 211.2 L548.8 210.1 L551.4 209.6 L551.7 207.0ZM557.2 237.4 L556.5 233.1 L557.9 235.3 L560.4 234.4ZM539.7 258.9 L541.4 254.8 L541.5 257.5 L544.0 258.1ZM515.0 271.9 L518.0 268.6 L517.2 271.1 L519.4 272.6ZM487.5 276.3 L491.4 274.2 L489.8 276.3 L491.4 278.4ZM399.1 275.8 L403.4 276.7 L400.8 277.3 L400.7 279.9ZM393.7 250.1 L394.4 254.5 L392.9 252.3 L390.4 253.1ZM407.6 225.9 L407.2 230.3 L406.3 227.8 L403.7 228.0ZM424.9 203.9 L423.7 208.2 L423.3 205.6 L420.7 205.3ZM406.6 261.7 L409.4 265.1 L407.1 263.9 L405.3 265.9ZM411.3 234.4 L411.8 238.8 L410.5 236.5 L407.9 237.2ZM426.6 211.1 L425.6 215.4 L425.1 212.8 L422.5 212.6ZM447.1 192.1 L445.3 196.1 L445.3 193.5 L442.7 192.8ZM471.4 178.3 L468.5 181.7 L469.3 179.1 L467.0 177.8ZM498.8 173.0 L495.1 175.5 L496.5 173.2 L494.8 171.3ZM526.8 174.0 L522.6 175.6 L524.5 173.7 L523.2 171.4ZM469.6 248.1 L471.8 252.0 L469.7 250.4 L467.6 252.1ZM484.4 225.1 L482.9 229.3 L482.7 226.6 L480.1 226.1ZM509.1 212.3 L506.0 215.5 L506.9 213.0 L504.7 211.5ZM536.7 211.1 L532.4 212.2 L534.5 210.6 L533.4 208.1ZM549.4 233.0 L547.9 228.9 L549.7 230.7 L552.0 229.4ZM532.4 254.7 L534.2 250.7 L534.3 253.3 L536.8 254.0ZM507.3 266.6 L510.4 263.5 L509.5 266.0 L511.6 267.6ZM479.7 266.1 L484.0 265.3 L481.9 266.8 L482.8 269.3ZM260.8 254.1 L257.7 257.3 L258.6 254.8 L256.4 253.3ZM286.3 242.7 L284.0 246.5 L284.3 243.9 L281.9 242.9ZM309.2 226.7 L307.3 230.7 L307.4 228.1 L304.8 227.3ZM332.1 210.5 L330.0 214.4 L330.2 211.8 L327.7 211.0ZM355.4 195.0 L353.2 198.8 L353.4 196.2 L351.0 195.3ZM321.6 305.9 L324.3 309.4 L322.0 308.2 L320.2 310.1ZM317.7 278.2 L320.0 282.0 L317.8 280.5 L315.8 282.2ZM323.5 251.1 L323.7 255.5 L322.5 253.2 L319.9 253.7ZM340.8 229.1 L339.8 233.4 L339.3 230.8 L336.7 230.6ZM360.4 209.1 L359.0 213.3 L358.7 210.7 L356.1 210.3ZM480.8 243.8 L482.7 247.8 L480.7 246.1 L478.5 247.6ZM499.3 223.7 L496.9 227.5 L497.3 224.8 L494.8 223.8ZM526.2 217.8 L522.1 219.6 L523.9 217.6 L522.5 215.4ZM537.2 238.4 L536.6 234.0 L538.0 236.2 L540.5 235.4ZM516.1 256.1 L518.7 252.5 L518.1 255.1 L520.5 256.3ZM488.8 259.0 L493.1 257.9 L491.0 259.6 L492.1 262.0ZM251.4 249.7 L248.0 252.5 L249.2 250.1 L247.2 248.4ZM278.0 241.1 L275.3 244.6 L275.9 242.1 L273.6 240.8ZM301.8 226.5 L299.8 230.4 L300.0 227.8 L297.4 227.0ZM325.1 211.0 L323.0 214.8 L323.2 212.2 L320.7 211.3ZM348.5 195.5 L346.4 199.4 L346.6 196.8 L344.1 195.9ZM372.0 180.3 L370.0 184.2 L370.1 181.6 L367.6 180.8ZM393.6 162.5 L391.8 166.6 L391.8 163.9 L389.2 163.2ZM418.2 149.2 L415.6 152.8 L416.2 150.2 L413.8 149.0ZM443.9 138.0 L441.0 141.3 L441.7 138.8 L439.5 137.4ZM470.9 130.6 L467.5 133.5 L468.6 131.1 L466.6 129.3ZM498.6 126.8 L494.9 129.3 L496.3 127.0 L494.5 125.1ZM526.5 125.4 L522.7 127.5 L524.2 125.4 L522.6 123.3ZM554.5 125.8 L550.6 127.8 L552.2 125.7 L550.7 123.6ZM492.3 247.2 L496.5 248.8 L493.9 249.0 L493.4 251.6ZM507.4 226.8 L504.7 230.3 L505.3 227.8 L503.0 226.5ZM528.4 235.9 L526.2 232.1 L528.3 233.7 L530.4 232.0ZM506.8 252.1 L510.1 249.2 L509.0 251.6 L511.1 253.2ZM252.3 242.0 L248.9 244.8 L250.1 242.4 L248.1 240.6ZM279.0 233.7 L276.3 237.2 L276.9 234.6 L274.6 233.4ZM303.1 219.5 L300.9 223.3 L301.2 220.7 L298.7 219.8ZM327.2 205.1 L324.9 208.9 L325.2 206.3 L322.7 205.3ZM350.9 190.2 L348.8 194.1 L348.9 191.5 L346.5 190.6ZM373.6 174.0 L371.8 178.0 L371.8 175.4 L369.3 174.7ZM396.2 157.4 L394.0 161.3 L394.3 158.6 L391.8 157.7ZM421.1 144.6 L418.5 148.2 L419.0 145.6 L416.7 144.4ZM446.9 133.7 L443.9 137.0 L444.7 134.5 L442.5 133.1ZM474.0 126.8 L470.5 129.6 L471.7 127.2 L469.8 125.5ZM501.7 123.1 L498.0 125.6 L499.4 123.3 L497.6 121.4ZM529.7 121.6 L525.8 123.8 L527.4 121.7 L525.7 119.6ZM557.7 121.7 L553.8 123.7 L555.4 121.6 L553.8 119.5ZM504.3 236.7 L504.7 241.1 L503.4 238.8 L500.8 239.5ZM511.4 243.7 L513.9 240.1 L513.4 242.7 L515.8 243.9ZM250.6 234.5 L247.1 237.3 L248.3 234.9 L246.4 233.2ZM277.2 226.1 L274.5 229.6 L275.1 227.0 L272.8 225.7ZM302.2 213.6 L299.7 217.2 L300.2 214.6 L297.8 213.5ZM327.0 200.4 L324.6 204.2 L325.0 201.6 L322.5 200.5ZM351.1 186.2 L349.0 190.1 L349.2 187.5 L346.7 186.6ZM373.8 169.9 L372.0 173.9 L372.0 171.3 L369.4 170.5ZM259.4 224.8 L256.1 227.7 L257.1 225.3 L255.1 223.7ZM285.5 214.7 L282.7 218.2 L283.4 215.7 L281.0 214.4ZM311.3 203.9 L308.5 207.4 L309.2 204.8 L306.9 203.5ZM336.4 191.5 L333.9 195.2 L334.4 192.6 L332.0 191.5ZM257.7 218.1 L254.3 220.9 L255.5 218.5 L253.5 216.7ZM284.3 209.3 L281.4 212.6 L282.1 210.1 L279.9 208.7ZM310.7 200.1 L307.8 203.4 L308.6 200.9 L306.3 199.5ZM336.2 188.6 L333.7 192.2 L334.2 189.6 L331.8 188.5ZM253.3 210.9 L249.8 213.6 L251.0 211.2 L249.1 209.4ZM280.1 203.0 L277.2 206.3 L277.9 203.8 L275.7 202.4ZM306.7 194.2 L303.6 197.4 L304.5 194.9 L302.3 193.4ZM332.4 183.2 L329.8 186.8 L330.3 184.3 L328.0 183.1ZM356.9 169.7 L354.6 173.5 L354.9 170.9 L352.5 169.9ZM380.6 154.8 L378.4 158.6 L378.7 156.0 L376.2 155.0ZM405.1 141.2 L402.6 144.9 L403.1 142.3 L400.7 141.1ZM430.4 129.2 L427.7 132.7 L428.3 130.2 L426.0 128.9ZM456.7 119.7 L453.6 122.9 L454.5 120.4 L452.4 118.8ZM484.1 113.9 L480.6 116.6 L481.8 114.3 L479.9 112.5ZM511.9 110.5 L508.2 113.0 L509.6 110.7 L507.8 108.8ZM539.8 108.0 L536.0 110.4 L537.5 108.2 L535.7 106.2ZM258.2 200.2 L255.0 203.3 L256.0 200.8 L253.9 199.2ZM284.6 190.9 L281.8 194.3 L282.5 191.8 L280.2 190.5ZM310.1 179.3 L307.5 182.9 L308.0 180.3 L305.6 179.1ZM334.7 166.0 L332.3 169.8 L332.7 167.2 L330.3 166.1ZM359.2 152.5 L356.8 156.2 L357.2 153.6 L354.8 152.5ZM383.7 139.0 L381.3 142.7 L381.7 140.1 L379.3 139.0ZM408.8 126.6 L406.2 130.1 L406.8 127.5 L404.4 126.3ZM434.5 115.4 L431.7 118.8 L432.4 116.3 L430.1 114.9ZM461.0 106.4 L457.9 109.6 L458.8 107.1 L456.7 105.5ZM488.4 100.7 L484.9 103.4 L486.2 101.1 L484.2 99.3ZM516.2 96.8 L512.5 99.4 L513.9 97.1 L512.0 95.2ZM544.0 93.7 L540.3 96.2 L541.7 93.9 L539.9 92.0ZM262.4 190.7 L259.2 193.8 L260.2 191.4 L258.1 189.8ZM288.5 180.8 L285.9 184.3 L286.4 181.8 L284.1 180.5ZM313.6 168.4 L311.2 172.1 L311.6 169.5 L309.2 168.3ZM338.1 154.8 L335.7 158.5 L336.1 155.9 L333.7 154.9ZM362.5 141.1 L360.2 144.8 L360.5 142.2 L358.1 141.2ZM387.1 127.6 L384.5 131.3 L385.0 128.7 L382.6 127.5ZM412.6 116.1 L409.8 119.5 L410.5 117.0 L408.2 115.7ZM438.5 105.5 L435.6 108.8 L436.3 106.3 L434.1 104.9ZM465.2 97.2 L462.0 100.2 L463.0 97.8 L460.9 96.1ZM492.7 91.9 L489.2 94.6 L490.4 92.2 L488.5 90.4ZM520.4 87.9 L516.8 90.5 L518.2 88.2 L516.3 86.4ZM548.2 84.5 L544.6 87.1 L545.9 84.8 L544.1 82.9ZM264.1 182.4 L261.0 185.5 L261.9 183.0 L259.8 181.4ZM290.1 172.0 L287.5 175.6 L288.0 173.0 L285.7 171.8ZM315.2 159.6 L312.7 163.3 L313.1 160.7 L310.7 159.5ZM339.7 146.0 L337.3 149.7 L337.6 147.1 L335.2 146.1ZM364.2 132.5 L361.8 136.2 L362.2 133.6 L359.7 132.6ZM389.0 119.5 L386.3 123.1 L386.9 120.5 L384.6 119.3ZM414.6 108.2 L411.8 111.7 L412.5 109.1 L410.2 107.8ZM440.8 98.3 L437.8 101.5 L438.6 99.0 L436.4 97.5ZM467.7 90.7 L464.4 93.6 L465.5 91.2 L463.4 89.5ZM495.2 85.6 L491.7 88.3 L493.0 86.0 L491.1 84.2ZM523.0 81.8 L519.4 84.4 L520.7 82.1 L518.8 80.2ZM550.7 78.1 L547.1 80.7 L548.5 78.4 L546.6 76.6ZM244.0 179.6 L241.1 182.9 L241.8 180.4 L239.6 179.0ZM269.8 168.7 L267.1 172.2 L267.7 169.7 L265.4 168.4ZM295.2 156.8 L292.5 160.4 L293.1 157.8 L290.7 156.6ZM320.3 144.4 L317.7 148.1 L318.2 145.5 L315.8 144.3ZM345.2 131.7 L342.7 135.4 L343.2 132.8 L340.8 131.6ZM370.2 119.1 L367.6 122.7 L368.2 120.2 L365.8 119.0ZM395.7 107.6 L393.0 111.1 L393.6 108.5 L391.3 107.2ZM421.7 97.1 L418.8 100.4 L419.5 97.9 L417.3 96.5ZM448.3 88.4 L445.1 91.5 L446.1 89.0 L444.0 87.5ZM475.5 81.9 L472.1 84.7 L473.3 82.3 L471.3 80.6ZM503.2 77.5 L499.6 80.1 L500.9 77.8 L499.0 76.0ZM530.9 73.7 L527.3 76.3 L528.6 74.0 L526.8 72.1ZM558.7 70.0 L555.1 72.6 L556.4 70.3 L554.5 68.4ZM246.3 170.2 L243.6 173.8 L244.2 171.2 L241.9 169.9ZM271.7 158.5 L269.1 162.1 L269.6 159.5 L267.3 158.2ZM297.0 146.5 L294.4 150.1 L294.9 147.5 L292.6 146.3ZM322.1 134.1 L319.6 137.7 L320.1 135.1 L317.7 134.0ZM347.2 121.6 L344.6 125.3 L345.1 122.7 L342.8 121.5ZM372.5 109.7 L369.8 113.2 L370.4 110.7 L368.1 109.4ZM398.3 98.8 L395.5 102.2 L396.2 99.7 L393.9 98.3ZM424.6 89.2 L421.6 92.4 L422.4 89.9 L420.2 88.4ZM451.4 81.2 L448.2 84.2 L449.2 81.8 L447.1 80.1ZM478.8 75.3 L475.3 78.1 L476.5 75.7 L474.6 73.9ZM506.5 71.3 L502.9 73.9 L504.2 71.6 L502.3 69.7ZM534.2 67.5 L530.7 70.1 L532.0 67.8 L530.1 65.9ZM562.0 63.8 L558.4 66.4 L559.7 64.1 L557.9 62.2ZM241.3 162.0 L238.7 165.5 L239.2 162.9 L236.9 161.7ZM266.8 150.4 L264.1 153.9 L264.7 151.3 L262.4 150.1ZM292.1 138.4 L289.5 142.0 L290.1 139.4 L287.7 138.2ZM317.2 126.0 L314.7 129.6 L315.2 127.0 L312.8 125.8ZM342.3 113.6 L339.7 117.2 L340.2 114.6 L337.9 113.4ZM367.8 101.9 L365.0 105.4 L365.7 102.8 L363.4 101.5ZM393.7 91.4 L390.8 94.8 L391.6 92.2 L389.3 90.8ZM420.2 82.3 L417.1 85.4 L418.0 83.0 L415.8 81.4ZM447.1 74.6 L443.8 77.6 L444.9 75.2 L442.8 73.5ZM474.6 69.3 L471.1 72.0 L472.3 69.7 L470.4 67.9ZM502.3 65.4 L498.7 68.1 L500.1 65.8 L498.2 63.9ZM530.1 61.8 L526.5 64.4 L527.8 62.1 L526.0 60.2ZM557.9 58.2 L554.3 60.8 L555.6 58.5 L553.7 56.6ZM260.2 143.1 L257.5 146.6 L258.1 144.1 L255.8 142.8ZM285.6 131.2 L283.0 134.8 L283.5 132.2 L281.2 131.0ZM310.7 118.8 L308.1 122.4 L308.6 119.8 L306.2 118.7ZM335.8 106.4 L333.2 110.0 L333.7 107.4 L331.3 106.2ZM361.2 94.6 L358.4 98.1 L359.0 95.5 L356.7 94.3ZM387.2 84.3 L384.3 87.6 L385.0 85.1 L382.8 83.7ZM413.8 75.5 L410.6 78.6 L411.6 76.2 L409.4 74.6ZM440.9 68.7 L437.6 71.7 L438.7 69.3 L436.7 67.6ZM468.5 63.7 L464.9 66.4 L466.2 64.1 L464.3 62.3ZM496.2 60.0 L492.6 62.6 L493.9 60.3 L492.1 58.5ZM524.0 56.6 L520.4 59.2 L521.7 56.9 L519.9 55.0ZM261.1 132.4 L258.4 135.9 L259.0 133.4 L256.7 132.1ZM286.4 120.5 L283.8 124.1 L284.3 121.5 L282.0 120.3ZM311.5 108.0 L308.9 111.6 L309.4 109.0 L307.0 107.9ZM336.6 95.6 L334.0 99.2 L334.5 96.6 L332.1 95.4ZM362.1 84.2 L359.3 87.6 L360.0 85.1 L357.7 83.7ZM388.5 74.7 L385.4 77.9 L386.3 75.4 L384.1 73.9ZM415.4 67.3 L412.1 70.2 L413.2 67.8 L411.2 66.1ZM442.9 61.5 L439.4 64.3 L440.6 62.0 L438.6 60.2ZM470.5 57.0 L466.9 59.6 L468.2 57.3 L466.3 55.5ZM261.1 122.0 L258.4 125.6 L259.0 123.0 L256.7 121.7ZM286.4 110.1 L283.8 113.7 L284.3 111.1 L282.0 109.9ZM311.5 97.7 L309.0 101.3 L309.5 98.7 L307.1 97.6ZM336.7 85.5 L334.1 89.0 L334.6 86.4 L332.3 85.2ZM362.5 74.5 L359.6 77.9 L360.3 75.3 L358.1 74.0ZM389.1 65.8 L385.9 68.9 L386.9 66.4 L384.7 64.9ZM416.2 59.1 L412.9 62.0 L414.0 59.6 L412.0 57.9ZM443.7 53.7 L440.3 56.5 L441.5 54.1 L439.5 52.4ZM254.6 114.7 L251.8 118.2 L252.4 115.6 L250.1 114.3ZM280.0 103.1 L277.4 106.6 L277.9 104.0 L275.6 102.8ZM305.3 91.0 L302.7 94.6 L303.2 92.0 L300.9 90.8ZM330.6 79.0 L327.9 82.5 L328.5 80.0 L326.2 78.7ZM356.4 68.1 L353.5 71.4 L354.2 68.9 L352.0 67.5ZM382.9 59.2 L379.8 62.4 L380.7 59.9 L378.6 58.3ZM388.6 156.5 L386.5 160.4 L386.7 157.7 L384.2 156.8ZM413.2 143.1 L410.6 146.7 L411.1 144.1 L408.7 142.9ZM438.6 131.5 L435.8 134.9 L436.5 132.4 L434.2 131.0ZM465.4 123.2 L462.1 126.1 L463.1 123.7 L461.1 122.0ZM493.0 118.5 L489.4 121.1 L490.7 118.8 L488.8 117.0ZM520.8 115.9 L517.1 118.3 L518.5 116.0 L516.8 114.1ZM548.8 114.3 L545.0 116.6 L546.5 114.4 L544.8 112.4ZM259.7 102.6 L256.9 106.0 L257.6 103.5 L255.3 102.2ZM285.3 91.3 L282.6 94.8 L283.2 92.3 L280.9 91.0ZM310.7 79.5 L308.1 83.1 L308.7 80.5 L306.3 79.3ZM336.3 68.0 L333.5 71.5 L334.1 68.9 L331.8 67.6ZM362.3 57.9 L359.4 61.2 L360.2 58.7 L358.0 57.2ZM250.8 96.5 L247.8 99.9 L248.6 97.3 L246.4 95.9ZM276.9 86.5 L274.1 89.9 L274.8 87.3 L272.5 86.0ZM302.7 75.5 L299.9 79.0 L300.6 76.4 L298.3 75.1ZM328.3 64.3 L325.6 67.8 L326.2 65.2 L323.9 63.9ZM354.3 54.0 L351.4 57.3 L352.2 54.8 L350.0 53.4ZM241.7 208.1 L238.2 210.9 L239.4 208.5 L237.5 206.8ZM268.8 201.5 L265.8 204.7 L266.7 202.2 L264.5 200.7ZM295.1 191.8 L292.2 195.2 L293.0 192.6 L290.7 191.2ZM320.9 181.0 L318.4 184.6 L318.9 182.0 L316.5 180.9ZM345.6 167.7 L343.2 171.4 L343.6 168.8 L341.1 167.8ZM369.9 153.9 L367.6 157.7 L367.9 155.0 L365.5 154.0ZM394.5 140.5 L392.0 144.2 L392.5 141.6 L390.1 140.4ZM419.6 128.2 L417.0 131.7 L417.5 129.1 L415.2 127.9ZM445.6 117.6 L442.6 120.9 L443.4 118.4 L441.2 116.9ZM472.5 110.0 L469.1 112.9 L470.2 110.5 L468.2 108.8ZM500.1 105.5 L496.5 108.1 L497.8 105.8 L496.0 104.0ZM527.9 102.3 L524.3 104.8 L525.7 102.6 L523.8 100.6ZM555.8 99.6 L552.1 102.1 L553.5 99.8 L551.7 97.9ZM262.1 85.9 L259.1 89.1 L260.0 86.6 L257.8 85.1ZM288.5 76.4 L285.6 79.8 L286.4 77.2 L284.1 75.9ZM314.4 65.8 L311.6 69.3 L312.3 66.7 L310.0 65.4ZM340.3 55.1 L337.4 58.5 L338.2 56.0 L335.9 54.6ZM248.6 83.0 L245.3 86.0 L246.4 83.5 L244.3 81.9ZM275.5 75.4 L272.4 78.5 L273.3 76.1 L271.2 74.5ZM302.0 66.4 L299.1 69.7 L299.9 67.2 L297.7 65.7ZM328.1 56.0 L325.2 59.5 L325.9 56.9 L323.6 55.6ZM262.8 72.8 L259.5 75.7 L260.6 73.3 L258.6 71.6ZM289.9 65.9 L286.8 69.0 L287.7 66.6 L285.6 65.0ZM316.5 57.0 L313.6 60.3 L314.3 57.8 L312.1 56.4ZM249.7 68.4 L246.2 71.0 L247.4 68.7 L245.5 66.9ZM277.3 63.5 L273.8 66.3 L275.0 64.0 L273.0 62.2ZM304.5 57.0 L301.3 60.1 L302.3 57.7 L300.2 56.1ZM255.1 60.3 L251.5 62.9 L252.8 60.6 L251.0 58.7ZM282.8 56.4 L279.3 59.1 L280.6 56.8 L278.7 55.0ZM326.7 421.4 L330.6 419.4 L329.0 421.5 L330.6 423.6ZM298.7 421.0 L302.6 418.9 L301.0 421.0 L302.6 423.1ZM270.7 421.7 L274.5 419.4 L273.0 421.6 L274.7 423.6ZM344.2 424.4 L348.1 422.3 L346.5 424.4 L348.1 426.5ZM316.2 424.0 L320.1 421.9 L318.5 424.0 L320.1 426.1ZM288.2 424.0 L292.1 421.9 L290.5 424.0 L292.1 426.1ZM260.2 425.1 L264.0 422.8 L262.5 425.0 L264.2 427.0ZM333.9 427.1 L337.8 425.0 L336.2 427.1 L337.8 429.2ZM305.9 427.0 L309.8 424.9 L308.2 427.0 L309.8 429.1ZM277.9 427.7 L281.7 425.5 L280.2 427.7 L281.9 429.7ZM250.0 429.5 L253.7 427.1 L252.3 429.3 L254.0 431.3ZM316.5 430.1 L320.4 427.9 L318.8 430.0 L320.4 432.1ZM288.5 430.5 L292.4 428.4 L290.8 430.5 L292.4 432.6ZM260.6 431.9 L264.2 429.5 L262.8 431.7 L264.6 433.6ZM307.0 238.4 L306.5 242.8 L305.7 240.2 L303.0 240.4ZM324.4 216.5 L323.5 220.8 L322.9 218.2 L320.3 218.1ZM343.1 195.6 L342.1 200.0 L341.6 197.4 L339.0 197.2ZM314.5 235.2 L314.1 239.6 L313.2 237.1 L310.6 237.2ZM332.7 213.8 L331.6 218.1 L331.1 215.5 L328.5 215.3ZM351.2 192.9 L350.3 197.2 L349.7 194.6 L347.1 194.5ZM323.7 231.2 L322.7 235.5 L322.2 232.9 L319.5 232.7ZM342.2 210.1 L341.1 214.4 L340.6 211.8 L338.0 211.6ZM313.1 222.6 L312.2 227.0 L311.7 224.4 L309.0 224.3ZM331.8 201.8 L330.7 206.0 L330.2 203.4 L327.6 203.2Z"/>
</g>
<g fill="none" stroke="#000" stroke-width="1.6" stroke-linejoin="round" stroke-linecap="round">
<path d="M236.4 91.4 L245.9 99.9 L251.2 106.3 L257.6 108.4 L264.0 111.6 L265.1 119.1 L268.2 121.2 L275.7 120.1 L289.5 116.9 L300.1 107.4 L315.0 95.7 L332.0 82.9 L347.9 70.6 L345.8 62.8 L338.4 59.6 L332.0 58.5 L329.9 54.2"/>
<path d="M347.9 70.6 L357.5 71.2 L366.0 76.6 L370.2 80.8 L376.6 76.6 L386.2 70.8 L400.0 77.6"/>
<path d="M376.6 76.6 L377.7 86.1 L380.9 94.6 L385.1 103.1 L386.2 106.3 L384.1 111.6 L383.0 124.4 L381.9 141.4 L376.6 149.9 L370.2 160.5 L363.9 171.1 L361.8 180.9"/>
<path d="M275.7 120.1 L275.1 143.5 L272.5 156.2 L268.2 161.6 L261.9 162.6 L247.0 163.7 L242.8 166.9 L236.4 166.9"/>
<path d="M400.0 77.6 L461.6 112.7"/>
<path d="M471.2 54.2 L471.2 110.6 L461.6 110.6 L461.6 158.4 L453.1 160.5 L451.0 165.8 L446.8 171.1 L447.8 177.5 L444.6 180.9"/>
<path d="M471.2 87.2 L563.6 87.2"/>
<path d="M550.2 88.4 L554.0 91.5 L557.8 87.8 L562.8 84.0"/>
<path d="M237.9 173.8 L239.8 180.0 L243.5 183.8 L244.8 188.8 L249.8 192.5 L254.8 193.8 L256.0 197.5 L257.2 200.0 L258.5 198.1 L261.6 196.2 L265.4 201.2 L269.1 203.8"/>
<path d="M269.1 203.8 L269.1 195.0 L272.2 188.8 L274.8 183.8 L279.8 181.2 L286.0 180.6 L291.0 180.0 L296.0 182.5 L299.8 188.8 L306.0 187.5 L311.0 186.2 L316.0 190.0 L322.2 191.9 L328.5 191.2 L333.5 187.5 L336.0 186.2"/>
<path d="M269.1 203.8 L268.5 207.5 L270.4 212.5 L271.0 216.2 L269.1 220.0 L269.8 223.8 L266.0 227.5 L264.8 233.8 L261.0 235.0 L261.0 247.0"/>
<path d="M257.2 200.0 L256.0 203.8 L252.2 206.2 L247.2 208.8 L243.5 211.2 L242.2 217.5 L243.5 221.2 L247.2 225.0 L247.9 230.0 L248.5 236.2 L249.8 241.2 L250.4 247.0"/>
<path d="M242.2 211.2 L237.2 212.5 L236.0 211.9"/>
<path d="M236.0 218.8 L238.5 222.5 L237.9 230.0 L239.1 237.5 L241.0 242.5 L241.0 247.0"/>
<path d="M336.0 185.0 L343.5 185.6 L349.8 187.5 L356.0 186.2 L361.0 182.5"/>
<path d="M362.2 177.5 L361.0 182.5 L364.8 186.2 L367.2 191.2 L369.8 195.0 L372.2 191.2 L377.2 190.0 L373.5 187.5 L368.5 185.0 L364.8 181.2 L362.2 177.5"/>
<path d="M369.8 195.0 L373.5 198.8 L376.0 205.0 L377.2 212.5 L378.5 217.5 L381.0 221.2 L383.5 225.0 L378.5 223.8 L372.2 223.8 L367.9 226.2 L367.2 228.8 L371.0 232.5 L374.8 237.5 L378.5 242.5 L379.8 247.0"/>
<path d="M372.2 202.5 L368.5 207.5 L364.8 211.2 L363.5 217.5 L359.8 223.8 L357.2 228.8 L356.0 235.0 L353.5 240.0 L351.0 242.5 L350.4 247.0"/>
<path d="M436.0 225.0 L432.2 228.8 L428.5 233.8 L421.0 234.4 L416.0 235.6 L413.5 238.8 L414.1 242.5 L411.0 245.0 L406.0 246.2 L401.0 247.0"/>
<path d="M428.5 233.8 L429.8 240.0 L431.0 247.0"/>
<path d="M236.0 270.8 L241.0 270.1 L244.8 267.6 L251.0 265.8 L261.0 264.5 L268.5 263.9 L274.8 265.1 L279.8 268.2 L283.5 273.2 L286.0 278.2 L287.2 283.2 L289.8 287.0 L294.8 287.6 L303.5 286.4 L311.0 285.8 L317.2 284.5 L318.5 288.2 L323.5 290.8 L326.0 294.5 L327.2 299.5 L328.5 305.8 L327.2 312.0 L326.0 318.2 L324.8 324.0"/>
<path d="M239.8 247.0 L239.8 259.5 L242.2 265.8 L244.8 267.6"/>
<path d="M249.8 247.0 L249.8 259.5 L251.0 265.8"/>
<path d="M261.0 247.0 L261.0 257.0 L261.0 264.5"/>
<path d="M336.0 257.0 L331.0 259.5 L326.0 264.5 L321.0 269.5 L317.2 274.5 L316.0 279.5 L317.2 284.5"/>
<path d="M314.8 298.2 L317.2 294.5 L319.1 295.8 L316.6 300.1 L314.8 298.2"/>
<path d="M328.5 305.8 L331.0 309.5 L336.0 312.0"/>
<path d="M381.0 247.0 L379.8 253.2 L376.0 260.8 L372.2 267.0 L372.2 272.0 L373.5 278.2 L374.8 284.5 L378.5 290.8 L382.2 297.0 L386.0 303.2 L387.2 309.5 L386.6 317.0"/>
<path d="M382.2 247.0 L389.8 252.0 L401.0 247.0"/>
<path d="M391.0 297.0 L401.0 295.1 L411.0 295.8 L411.0 289.5 L413.5 283.2 L418.5 279.5 L423.5 280.8 L428.5 285.8 L436.0 288.2"/>
<path d="M411.0 295.8 L409.8 303.2 L407.2 309.5 L405.4 317.0 L404.8 324.0"/>
<path d="M387.2 309.5 L391.0 297.0"/>
<path d="M336.0 257.0 L339.8 263.2 L343.5 257.0 L346.0 249.5"/>
<path d="M444.6 181.0 L446.8 191.6 L451.0 204.4 L453.1 215.0 L457.4 225.6 L457.4 236.2 L463.8 242.6 L472.2 249.0 L478.6 257.5 L485.0 266.0 L491.4 274.5 L497.8 285.1 L506.2 287.2 L514.8 285.1 L519.0 291.5 L527.5 300.0 L527.5 311.9"/>
<path d="M457.4 225.6 L442.5 229.9 L427.6 233.1 L414.9 236.2 L413.8 242.6 L406.4 246.9 L400.0 247.9"/>
<path d="M400.0 280.9 L408.5 285.1 L414.9 283.0 L419.1 278.8 L427.6 280.9 L436.1 285.1 L446.8 287.2 L451.0 280.9 L459.5 280.9 L465.9 278.8 L474.4 277.7 L485.0 278.8 L491.4 280.9 L497.8 285.1"/>
<path d="M563.6 202.2 L559.4 208.6 L561.5 223.5 L557.2 234.1 L548.8 242.6 L548.8 246.9 L557.2 255.4 L563.6 261.8"/>
<path d="M335.0 377.0 L342.6 384.2 L347.9 392.8 L350.1 401.2 L353.2 407.6 L357.5 422.5 L360.7 433.1 L360.7 442.9"/>
<path d="M387.5 377.0 L383.0 382.1 L378.8 386.4 L374.5 384.2 L366.0 388.5 L357.5 390.6 L351.1 390.6 L350.1 401.2"/>
<path d="M327.5 300.0 L326.2 307.5 L326.2 313.8 L324.4 321.2 L322.5 328.8 L323.8 335.0 L318.8 342.5 L320.0 348.8 L322.5 355.0 L327.5 365.0 L332.5 372.5 L335.0 377.0"/>
<path d="M326.2 311.9 L342.5 311.9 L342.5 326.2 L326.2 323.8"/>
<path d="M342.5 311.9 L360.0 311.9 L360.6 316.2 L359.4 322.5 L365.0 321.9 L370.0 321.2 L372.5 316.2 L380.0 313.8 L386.2 317.5 L388.8 312.5 L390.0 306.2 L391.2 300.0"/>
<path d="M370.0 321.2 L371.2 327.5 L367.5 332.5 L366.2 337.5 L368.8 340.0 L372.5 342.5 L371.2 350.0 L371.9 357.5 L368.8 362.5 L367.5 365.0 L362.5 363.8 L357.5 362.5 L353.8 358.8 L352.5 362.5 L345.0 363.8 L343.8 370.0 L346.2 377.0"/>
<path d="M410.0 305.0 L406.2 312.5 L405.0 325.0 L403.8 336.2 L402.5 343.8 L397.5 350.0 L392.5 355.0 L390.0 361.2 L387.5 366.2 L387.5 377.0"/>
<path d="M381.2 355.0 L390.0 353.8 L405.0 353.8 L406.2 358.8 L408.8 365.0 L410.0 367.5"/>
<path d="M400.0 428.9 L410.6 427.8 L418.1 426.8 L419.1 417.2 L427.6 416.1 L428.7 420.4 L440.4 420.4 L441.4 442.9"/>
<path d="M526.5 300.0 L525.9 306.2 L529.0 310.0 L532.8 311.2"/>
<path d="M532.1 311.2 L527.8 316.2 L524.0 321.2 L522.8 324.4 L525.2 325.0 L529.0 320.0 L532.8 313.8 L532.1 311.2"/>
<path d="M522.8 324.4 L519.0 328.8 L517.8 333.8 L515.2 338.8 L513.4 342.5 L514.6 347.5 L514.0 352.5 L512.8 355.0 L509.0 356.2 L507.8 362.5 L509.0 367.5 L511.5 371.2 L511.5 377.0"/>
<path d="M512.8 342.5 L514.0 338.8 L517.1 340.0 L515.9 344.4 L512.8 342.5"/>
<path d="M514.0 352.5 L519.0 350.0 L524.0 348.8 L529.0 349.4 L536.5 348.8"/>
<path d="M519.0 350.0 L524.0 352.5 L526.5 356.2 L526.5 362.5 L522.8 363.8 L519.0 365.0 L517.8 368.1 L511.5 368.8"/>
<path d="M526.5 362.5 L525.2 367.5 L522.8 370.0 L524.0 377.0"/>
<path d="M537.8 338.8 L542.8 336.2 L549.0 332.5 L554.0 335.0 L556.5 336.2 L557.1 341.2 L557.8 347.5 L556.5 352.5 L554.0 357.5 L550.2 360.0 L551.5 362.5 L546.5 361.2 L544.0 365.0 L539.0 365.0 L535.2 367.5 L534.0 362.5 L534.6 356.2 L535.2 350.0 L534.6 343.8 L537.8 338.8"/>
<path d="M564.0 321.2 L559.0 327.5 L556.5 336.2"/>
<path d="M557.1 341.2 L564.0 343.8"/>
<path d="M510.9 377.0 L510.9 387.0 L512.1 394.5 L512.8 402.0 L512.1 407.0 L514.0 413.2 L516.5 418.2 L520.2 424.5 L522.8 429.5 L525.2 433.2 L527.8 435.8"/>
<path d="M514.0 384.5 L515.2 389.5 L516.5 395.8 L517.8 402.0 L517.8 407.0 L519.6 413.2 L522.8 419.5 L525.2 425.8 L527.8 430.8 L529.6 434.5 L527.8 435.8"/>
<path d="M512.5 380.8 L513.4 389.5 L514.6 397.0 L515.2 404.5 L515.2 408.2 L517.1 414.5 L519.6 419.5 L522.8 425.8 L525.2 430.8"/>
<path d="M522.8 377.0 L521.5 382.0 L517.8 385.8 L515.2 389.5"/>
<path d="M527.8 435.8 L534.0 437.0 L541.5 442.0 L546.5 444.5 L551.5 447.0 L554.0 450.8 L556.5 454.0"/>
<path d="M535.9 423.9 L539.0 424.5 L544.0 429.5 L545.2 432.6 L542.8 432.0 L537.8 427.6 L535.9 423.9"/>
<path d="M502.8 442.0 L506.5 435.8 L509.0 433.9 L510.2 436.4 L507.1 442.0 L504.0 445.1 L502.8 442.0"/>
<path d="M514.0 438.2 L516.5 433.2 L519.0 433.9 L516.5 438.9 L514.0 438.2"/>
<path d="M509.0 433.9 L514.0 432.0 L522.8 430.8"/>
<path d="M504.6 445.1 L505.2 454.0"/>
<path d="M546.5 444.5 L551.5 449.5 L554.0 454.0"/>
<path d="M556.5 444.5 L560.2 449.5 L561.5 454.0"/>
<path d="M359.6 443.0 L361.8 451.5 L366.0 460.0 L363.9 470.6 L361.8 479.1 L355.4 485.5 L352.2 494.0 L349.0 504.6 L346.9 515.2 L345.8 523.8 L344.8 532.2 L345.8 542.9 L349.0 553.5 L351.1 562.0"/>
<path d="M344.8 532.2 L353.2 530.1 L359.6 530.1 L366.0 534.4 L400.0 534.4"/>
<path d="M441.4 443.0 L444.6 453.6 L445.7 464.2 L461.6 463.2 L461.6 483.4 L442.5 484.4 L443.6 502.5 L443.6 521.6 L448.9 528.0 L453.1 534.4 L457.4 536.5 L470.1 542.9 L476.5 549.2 L480.8 555.6 L485.0 562.0"/>
<path d="M461.6 461.1 L465.9 464.2 L474.4 466.4 L476.5 470.6 L485.0 472.8 L491.4 470.6 L493.5 464.2 L491.4 460.0"/>
<path d="M400.0 535.4 L408.5 535.4 L412.8 538.6 L421.2 540.8 L434.0 542.9 L453.1 538.6 L457.4 536.5"/>
<path d="M432.9 545.0 L432.9 562.0"/>
<path d="M432.9 545.0 L453.1 542.9 L459.5 545.0 L470.1 540.8"/>
<path d="M521.1 517.4 L506.2 515.2 L502.0 523.8 L497.8 528.0 L493.5 536.5 L485.0 540.8 L480.8 545.0"/>
<path d="M546.6 528.0 L546.6 562.0"/>
<path d="M505.2 443.0 L505.9 450.5 L506.5 456.8 L504.0 464.2 L503.4 469.2 L506.5 474.2 L509.0 478.0 L505.2 481.8 L507.8 486.8 L510.2 489.2 L516.5 489.9 L516.5 474.2 L510.2 476.8"/>
<path d="M464.0 463.0 L466.5 466.8 L474.0 465.5 L475.2 469.9 L480.2 472.4 L487.8 473.0 L490.9 469.9 L491.5 466.8 L490.2 460.5"/>
<path d="M492.1 466.8 L495.2 473.0 L497.8 476.8 L504.0 479.2 L506.5 481.8"/>
<path d="M515.2 466.1 L516.5 461.8 L518.4 460.5 L518.4 463.6 L516.5 466.8 L515.2 466.1"/>
<path d="M550.2 443.0 L551.5 449.2 L553.4 455.5 L551.5 460.5 L550.2 466.8 L550.9 473.0 L551.5 478.0 L549.0 480.5 L547.1 484.2 L546.5 490.5 L545.2 493.0 L549.0 496.8 L554.0 501.8 L561.5 500.5 L564.0 505.5"/>
<path d="M556.5 443.0 L559.0 450.5 L560.2 459.2 L559.6 468.0 L560.2 478.0 L561.5 486.8 L562.8 493.0"/>
<path d="M549.0 496.8 L541.5 499.9 L534.0 503.0 L526.5 505.5 L520.9 508.0 L521.5 514.2 L522.8 520.0"/>
<path d="M535.2 503.0 L535.9 513.0 L536.5 520.0"/>
</g>
<g fill="none" stroke="#000" stroke-width="2" stroke-linejoin="round" stroke-linecap="round">
<path d="M540.2 318.8 L544.0 316.9 L549.0 317.5 L551.5 320.0 L549.0 321.9 L545.2 320.6 L541.5 320.0"/>
<path d="M507.8 356.2 L508.0 363.8"/>
<path d="M526.5 307.5 L528.4 310.0"/>
<path d="M511.5 377.0 L511.8 385.8"/>
<path d="M483.4 435.1 L488.4 433.2"/>
<path d="M525.2 514.9 L534.0 514.5 L544.0 514.0"/>
<path d="M489.6 459.9 L490.9 461.8"/>
<path d="M504.6 443.6 L505.9 444.9"/>
<path d="M273.5 208.1 L277.2 210.6 L279.1 215.0 L277.9 220.0 L278.5 225.0"/>
<path d="M362.9 178.8 L365.4 183.8 L367.9 188.8 L370.4 193.1"/>
<path d="M283.5 273.2 L286.0 276.4"/>
<path d="M294.8 287.2 L303.5 286.4 L311.0 285.8"/>
<path d="M312.2 282.0 L317.2 284.5"/>
<path d="M545.9 65.2 L546.5 70.2 L545.9 75.2 L542.8 80.2 L539.0 79.0 L535.2 80.9 L534.0 85.2 L531.5 87.8 L529.0 92.8"/>
<path d="M495.6 531.2 L502.0 526.9 L508.4 524.8"/>
</g>
</g>
<rect x="236" y="54" width="328" height="509" fill="none" stroke="#000" stroke-width="2"/>
<g stroke="#000" stroke-width="1.3">
<line x1="232" y1="110.00" x2="236" y2="110.00"/>
<line x1="232" y1="166.72" x2="236" y2="166.72"/>
<line x1="232" y1="223.44" x2="236" y2="223.44"/>
<line x1="232" y1="280.16" x2="236" y2="280.16"/>
<line x1="232" y1="336.88" x2="236" y2="336.88"/>
<line x1="232" y1="393.60" x2="236" y2="393.60"/>
<line x1="232" y1="450.32" x2="236" y2="450.32"/>
<line x1="232" y1="507.04" x2="236" y2="507.04"/>
<line x1="262.90" y1="563" x2="262.90" y2="567"/>
<line x1="291.30" y1="563" x2="291.30" y2="567"/>
<line x1="319.70" y1="563" x2="319.70" y2="567"/>
<line x1="348.10" y1="563" x2="348.10" y2="567"/>
<line x1="376.50" y1="563" x2="376.50" y2="567"/>
<line x1="404.90" y1="563" x2="404.90" y2="567"/>
<line x1="433.30" y1="563" x2="433.30" y2="567"/>
<line x1="461.70" y1="563" x2="461.70" y2="567"/>
<line x1="490.10" y1="563" x2="490.10" y2="567"/>
<line x1="518.50" y1="563" x2="518.50" y2="567"/>
<line x1="546.90" y1="563" x2="546.90" y2="567"/>
</g>
<g class="ax">
<text x="207.55" y="114.40" textLength="21.75" lengthAdjust="spacingAndGlyphs">20N</text>
<text x="207.55" y="171.12" textLength="21.75" lengthAdjust="spacingAndGlyphs">15N</text>
<text x="207.55" y="227.84" textLength="21.75" lengthAdjust="spacingAndGlyphs">10N</text>
<text x="214.80" y="284.56" textLength="14.5" lengthAdjust="spacingAndGlyphs">5N</text>
<text x="214.30" y="341.28" textLength="15" lengthAdjust="spacingAndGlyphs">EQ</text>
<text x="215.70" y="398.00" textLength="13.6" lengthAdjust="spacingAndGlyphs">5S</text>
<text x="208.30" y="454.72" textLength="21" lengthAdjust="spacingAndGlyphs">10S</text>
<text x="208.30" y="511.44" textLength="21" lengthAdjust="spacingAndGlyphs">15S</text>
<text x="257.05" y="577.5" textLength="12.3" lengthAdjust="spacingAndGlyphs">3E</text>
<text x="285.45" y="577.5" textLength="12.3" lengthAdjust="spacingAndGlyphs">6E</text>
<text x="313.85" y="577.5" textLength="12.3" lengthAdjust="spacingAndGlyphs">9E</text>
<text x="338.10" y="577.5" textLength="20.6" lengthAdjust="spacingAndGlyphs">12E</text>
<text x="366.50" y="577.5" textLength="20.6" lengthAdjust="spacingAndGlyphs">15E</text>
<text x="394.90" y="577.5" textLength="20.6" lengthAdjust="spacingAndGlyphs">18E</text>
<text x="423.30" y="577.5" textLength="20.6" lengthAdjust="spacingAndGlyphs">21E</text>
<text x="451.70" y="577.5" textLength="20.6" lengthAdjust="spacingAndGlyphs">24E</text>
<text x="480.10" y="577.5" textLength="20.6" lengthAdjust="spacingAndGlyphs">27E</text>
<text x="508.50" y="577.5" textLength="20.6" lengthAdjust="spacingAndGlyphs">30E</text>
<text x="536.90" y="577.5" textLength="20.6" lengthAdjust="spacingAndGlyphs">33E</text>
</g>
<g stroke="#000" stroke-width="1.6" stroke-linejoin="miter">
<polygon points="675,87.8 682.15,63.8 689.3,87.8" fill="rgb(165, 0, 0)"/>
<rect x="675" y="87.80" width="14.30" height="26.04" fill="rgb(192, 0, 0)"/>
<rect x="675" y="113.84" width="14.30" height="26.04" fill="rgb(225, 20, 0)"/>
<rect x="675" y="139.87" width="14.30" height="26.04" fill="rgb(255, 50, 0)"/>
<rect x="675" y="165.91" width="14.30" height="26.04" fill="rgb(255, 96, 0)"/>
<rect x="675" y="191.94" width="14.30" height="26.04" fill="rgb(255, 160, 0)"/>
<rect x="675" y="217.98" width="14.30" height="26.04" fill="rgb(255, 192, 60)"/>
<rect x="675" y="244.01" width="14.30" height="26.04" fill="rgb(255, 232, 120)"/>
<rect x="675" y="270.05" width="14.30" height="26.04" fill="rgb(255, 250, 170)"/>
<rect x="675" y="296.08" width="14.30" height="26.04" fill="rgb(55, 210, 60)"/>
<rect x="675" y="322.12" width="14.30" height="26.04" fill="rgb(120, 245, 115)"/>
<rect x="675" y="348.15" width="14.30" height="26.04" fill="rgb(180, 250, 170)"/>
<rect x="675" y="374.19" width="14.30" height="26.04" fill="rgb(225, 255, 255)"/>
<rect x="675" y="400.22" width="14.30" height="26.04" fill="rgb(150, 210, 250)"/>
<rect x="675" y="426.26" width="14.30" height="26.04" fill="rgb(120, 185, 250)"/>
<rect x="675" y="452.29" width="14.30" height="26.04" fill="rgb(80, 165, 245)"/>
<rect x="675" y="478.33" width="14.30" height="26.04" fill="rgb(60, 150, 245)"/>
<rect x="675" y="504.36" width="14.30" height="26.04" fill="rgb(30, 110, 235)"/>
<polygon points="675,530.4 682.15,554.2 689.3,530.4" fill="rgb(20, 100, 210)"/>
</g>
<g class="cb">
<text x="693" y="92.50" letter-spacing="1.5">26</text>
<text x="693" y="118.54" letter-spacing="1.5">25</text>
<text x="693" y="144.57" letter-spacing="1.5">24</text>
<text x="693" y="170.61" letter-spacing="1.5">23</text>
<text x="693" y="196.64" letter-spacing="1.5">22</text>
<text x="693" y="222.68" letter-spacing="1.5">21</text>
<text x="693" y="248.71" letter-spacing="1.5">20</text>
<text x="693" y="274.75" letter-spacing="1.5">19</text>
<text x="693" y="300.78" letter-spacing="1.5">18</text>
<text x="693" y="326.82" letter-spacing="1.5">17</text>
<text x="693" y="352.85" letter-spacing="1.5">16</text>
<text x="693" y="378.89" letter-spacing="1.5">15</text>
<text x="693" y="404.92" letter-spacing="1.5">14</text>
<text x="693" y="430.96" letter-spacing="1.5">13</text>
<text x="693" y="456.99" letter-spacing="1.5">12</text>
<text x="693" y="483.03" letter-spacing="1.5">11</text>
<text x="693" y="509.06" letter-spacing="1.5">9</text>
<text x="693" y="535.10" letter-spacing="1.5">7</text>
</g>
<text class="ft" y="615"><tspan x="4" textLength="36.6" lengthAdjust="spacingAndGlyphs">GrADS:</tspan> <tspan x="47.4" textLength="60.2" lengthAdjust="spacingAndGlyphs">IGES/COLA</tspan></text>
</svg></body></html>
